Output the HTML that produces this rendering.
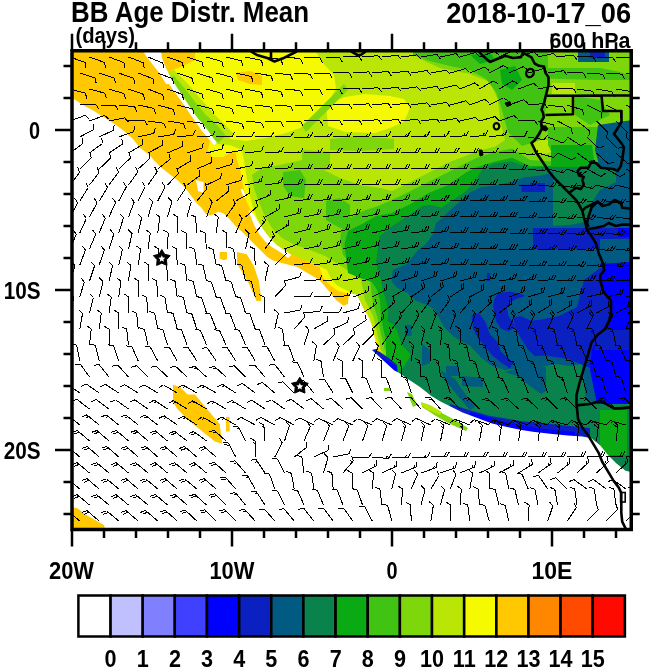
<!DOCTYPE html>
<html><head><meta charset="utf-8"><style>
html,body{margin:0;padding:0;background:#fff;width:650px;height:667px;overflow:hidden}
svg{display:block}
</style></head><body>
<svg width="650" height="667" viewBox="0 0 650 667"><defs><clipPath id="pc"><rect x="72" y="50" width="559" height="480"/></clipPath></defs><g clip-path="url(#pc)"><rect x="72" y="50" width="559" height="480" fill="#FFFFFF"/><path d="M60.0,40.0L640.0,40.0L640.0,540.0L60.0,540.0Z" fill="#FFC800"/><path d="M195.0,45.0L640.0,45.0L640.0,540.0L420.0,540.0L400.0,420.0L380.0,352.0L365.0,308.0L357.0,296.0L345.0,293.0L338.0,291.0L330.6,285.4L323.0,278.0L319.5,267.0L306.6,261.0L300.0,254.0L290.0,249.0L279.0,244.0L270.6,240.0L264.0,232.0L258.0,224.0L253.0,214.0L249.0,207.0L246.0,200.0L244.0,190.0L242.0,180.0L240.5,171.0L237.0,160.0L235.0,150.0L223.0,157.0L212.0,157.0L208.0,150.0L210.0,141.0L200.0,128.0L190.0,113.0L178.0,88.0L168.0,72.0L183.0,66.0L195.0,60.0Z" fill="#F5FA00"/><path d="M315.0,45.0L640.0,45.0L640.0,540.0L420.0,540.0L400.0,420.0L380.0,352.0L372.0,325.0L366.0,310.0L357.0,298.0L350.0,292.0L338.0,286.0L331.0,279.0L327.0,270.0L315.0,264.0L300.0,258.0L285.0,250.0L276.0,246.0L268.0,238.0L262.0,228.0L257.0,218.0L253.0,207.0L250.0,196.0L248.0,185.0L246.0,173.0L244.0,160.0L242.0,150.0L230.0,145.0L216.0,144.0L210.0,138.0L198.0,123.0L188.0,110.0L180.0,97.0L172.0,86.0L165.0,80.0L172.0,82.0L186.0,100.0L193.0,116.0L204.0,128.0L215.0,135.0L230.0,139.0L246.0,141.0L265.0,138.0L284.6,133.5L300.0,128.0L311.5,122.0L322.0,112.0L330.0,100.0L336.0,88.0L334.0,75.0L322.0,62.0L315.0,50.0L315.0,45.0Z" fill="#B9E605"/><path d="M236.0,73.0L250.0,71.0L262.0,76.0L262.0,85.0L250.0,84.0L238.0,80.0Z" fill="#FFC800"/><path d="M162.0,74.0L174.0,70.0L188.0,84.0L200.0,98.0L212.0,112.0L224.0,124.0L234.0,134.0L222.0,145.0L206.0,131.0L196.0,118.0L186.0,104.0L176.0,92.0Z" fill="#B9E605"/><path d="M164.0,78.0L174.0,76.0L186.0,90.0L196.0,103.0L206.0,115.0L218.0,126.0L226.0,136.0L218.0,143.0L206.0,130.0L196.0,118.0L186.0,104.0L176.0,92.0Z" fill="#7DD70A"/><path d="M326.0,104.0L345.0,97.0L365.0,94.0L390.0,96.0L404.0,99.0L410.0,108.0L404.0,122.0L390.0,128.0L375.0,133.0L345.0,132.0L328.0,126.0Z" fill="#F5FA00"/><path d="M252.0,175.0L262.0,168.0L280.0,165.0L302.0,160.0L320.0,168.0L340.0,178.0L360.0,185.0L380.0,188.0L392.0,191.0L410.5,181.7L429.0,172.5L447.4,163.0L466.0,155.8L480.6,150.3L495.4,146.6L505.0,140.0L500.0,120.0L498.0,100.0L490.0,82.0L470.0,74.0L440.0,68.0L418.0,58.0L410.0,45.0L640.0,45.0L640.0,540.0L420.0,540.0L400.0,420.0L383.0,352.0L381.0,350.0L379.5,342.0L377.5,334.0L375.5,325.0L373.0,316.0L369.0,308.0L365.0,300.0L363.0,290.0L361.0,280.0L350.0,272.0L338.0,264.0L325.0,256.0L310.0,250.0L295.0,245.0L282.0,238.0L272.0,228.0L264.0,214.0L258.0,200.0L254.0,188.0Z" fill="#7DD70A"/><path d="M302.0,126.0L318.0,110.0L334.0,94.0L344.0,84.0L348.0,90.0L336.0,102.0L320.0,118.0L306.0,132.0Z" fill="#7DD70A"/><path d="M330.0,139.0L360.0,136.0L394.0,139.0L394.0,149.0L360.0,151.0L330.0,150.0Z" fill="#7DD70A"/><path d="M302.0,150.0L330.0,152.0L330.0,170.0L302.0,170.0Z" fill="#7DD70A"/><path d="M552.0,83.0L575.0,83.0L575.0,94.0L552.0,94.0Z" fill="#B9E605"/><path d="M533.0,140.0L553.0,140.0L553.0,152.0L540.0,155.0L533.0,150.0Z" fill="#B9E605"/><path d="M392.0,200.0L410.5,191.0L429.0,181.7L447.4,172.5L466.0,163.0L477.0,157.7L495.0,152.0L512.0,148.5L530.0,160.0L576.0,163.0L600.0,160.0L640.0,160.0L640.0,540.0L420.0,540.0L400.0,420.0L387.0,352.0L385.0,350.0L383.0,342.0L381.0,334.0L379.0,325.0L377.0,316.0L374.5,308.0L372.5,300.0L371.0,290.0L370.0,280.0L362.0,270.0L350.0,262.0L343.0,255.0L340.0,240.0L342.0,226.0L350.0,218.0L360.0,212.0L378.0,206.0Z" fill="#41C314"/><path d="M326.0,201.0L340.0,198.0L350.0,205.0L350.0,225.0L340.0,228.0L326.0,220.0Z" fill="#41C314"/><path d="M283.0,172.0L300.0,170.0L306.0,180.0L304.0,198.0L290.0,196.0L283.0,186.0Z" fill="#41C314"/><path d="M413.0,45.0L548.0,45.0L548.0,80.0L545.0,115.0L540.0,140.0L522.0,146.0L508.0,132.0L502.0,110.0L496.0,92.0L486.0,79.0L470.0,70.0L450.0,66.0L430.0,61.0L413.0,55.0Z" fill="#41C314"/><path d="M500.0,70.0L515.0,66.0L522.0,80.0L512.0,90.0L502.0,84.0Z" fill="#0AAA14"/><path d="M470.0,55.0L490.0,52.0L495.0,60.0L480.0,64.0Z" fill="#0AAA14"/><path d="M540.0,68.0L600.0,68.0L620.0,72.0L632.0,76.0L632.0,80.0L600.0,80.0L560.0,79.0L540.0,78.0Z" fill="#41C314"/><path d="M575.0,96.0L600.0,100.0L610.0,115.0L590.0,125.0L575.0,115.0Z" fill="#41C314"/><path d="M392.0,213.0L410.5,204.0L429.0,192.8L447.4,185.4L466.0,172.5L477.0,167.0L495.0,161.4L512.0,157.7L530.0,166.0L553.0,166.0L640.0,166.0L640.0,540.0L420.0,540.0L400.0,420.0L392.0,380.0L389.0,350.0L386.5,342.0L384.5,334.0L382.5,325.0L381.0,316.0L380.5,308.0L380.0,300.0L377.0,290.0L372.0,282.0L360.0,278.0L348.0,273.0L346.0,257.0L344.5,244.0L348.0,231.0L363.0,223.5L376.0,216.0Z" fill="#0AAA14"/><path d="M483.0,168.0L495.4,163.2L512.0,161.4L530.0,168.0L553.0,166.0L576.0,163.0L590.0,155.0L600.0,160.0L615.0,165.0L640.0,165.0L640.0,540.0L420.0,540.0L400.0,420.0L397.0,360.0L400.0,344.6L398.0,333.8L393.8,325.0L387.4,321.0L388.4,312.3L386.3,301.5L383.0,290.8L381.0,280.0L377.7,270.0L376.0,262.0L377.7,250.0L379.5,236.5L390.6,227.0L401.7,220.0L412.8,212.5L422.0,206.0L430.0,205.0L441.8,207.5L453.0,200.0L466.0,191.0L475.0,181.7Z" fill="#0A824B"/><path d="M441.8,218.6L453.0,207.5L462.0,200.0L469.5,192.8L480.6,187.2L495.4,185.4L512.0,181.7L523.5,177.4L542.0,175.5L553.0,172.0L553.0,226.0L570.0,225.0L585.0,222.0L592.0,202.0L600.0,190.0L616.0,182.0L616.0,171.0L632.0,171.0L640.0,171.0L640.0,404.0L600.0,404.0L586.0,400.0L580.0,380.0L570.0,368.0L556.0,366.0L540.0,366.0L520.0,368.0L505.0,370.0L492.0,366.0L481.0,357.5L470.0,345.4L462.0,342.0L453.0,336.0L444.0,327.0L439.0,317.7L434.6,310.0L428.5,305.4L416.0,301.0L407.0,293.0L396.0,287.0L391.5,281.0L393.0,270.0L407.0,264.0L418.0,250.0L426.0,244.0L433.0,234.0L436.0,223.0Z" fill="#005A82"/><path d="M599.0,140.0L632.0,140.0L632.0,158.0L615.0,160.0L605.0,152.0Z" fill="#005A82"/><path d="M578.0,52.0L609.0,52.0L609.0,62.0L578.0,62.0Z" fill="#005A82"/><path d="M548.0,127.0L598.0,127.0L598.0,162.0L575.0,166.0L555.0,160.0L548.0,145.0Z" fill="#41C314"/><path d="M551.0,145.0L592.0,145.0L594.0,160.0L585.0,167.0L551.0,167.0Z" fill="#0AAA14"/><path d="M598.0,125.0L632.0,120.0L632.0,172.0L600.0,168.0L595.0,150.0Z" fill="#005A82"/><path d="M405.0,325.0L411.5,325.0L411.5,336.0L405.0,336.0Z" fill="#005A82"/><path d="M422.0,344.0L430.0,350.0L430.0,363.0L422.0,366.0Z" fill="#005A82"/><path d="M446.0,366.0L459.0,366.0L459.0,376.0L446.0,376.0Z" fill="#005A82"/><path d="M462.0,376.0L483.0,378.0L483.0,387.0L462.0,386.0Z" fill="#005A82"/><path d="M440.0,370.0L455.0,379.0L464.0,392.0L475.0,407.0L470.0,410.0L458.0,396.0L448.0,384.0Z" fill="#005A82"/><path d="M505.0,372.0L518.0,376.0L530.0,386.0L541.0,394.0L548.0,390.0L552.0,380.0L556.0,368.0L540.0,366.0L520.0,368.0Z" fill="#005A82"/><path d="M546.0,366.0L556.0,364.0L570.0,366.0L582.0,364.0L586.0,400.0L546.0,400.0Z" fill="#0A824B"/><path d="M586.0,404.0L632.0,404.0L632.0,470.0L586.0,440.0Z" fill="#0A824B"/><path d="M497.7,293.0L510.0,291.5L522.3,294.6L525.4,296.0L516.0,299.0L510.0,302.3L507.0,308.5L508.5,316.0L513.0,322.3L516.0,327.0L508.5,331.5L500.8,328.5L496.0,320.8L494.6,313.0L493.0,305.4L494.6,299.0Z" fill="#0A20C0"/><path d="M471.5,316.0L479.0,313.0L485.4,322.3L490.0,334.6L497.7,342.3L500.8,351.5L505.4,356.0L513.0,362.3L510.0,368.5L500.8,362.3L493.0,356.0L485.4,347.0L477.7,337.7L473.0,328.5Z" fill="#0A20C0"/><path d="M513.0,317.7L520.0,316.0L531.5,320.8L541.0,319.6L559.0,316.0L577.0,307.0L580.6,294.4L584.0,280.0L600.0,268.0L632.0,266.0L632.0,404.0L600.0,402.0L595.0,370.0L582.0,364.5L568.0,359.0L546.4,355.5L534.6,356.0L528.5,350.0L522.0,340.0L516.0,330.0Z" fill="#0A20C0"/><path d="M533.0,228.0L600.0,228.0L600.0,249.0L533.0,249.0Z" fill="#0A20C0"/><path d="M530.0,183.0L545.0,183.0L545.0,192.0L530.0,192.0Z" fill="#0A20C0"/><path d="M521.7,184.8L540.0,184.8L540.0,192.0L521.7,192.0Z" fill="#0A20C0"/><path d="M487.0,273.0L490.0,273.0L490.0,281.0L487.0,281.0Z" fill="#0A20C0"/><path d="M590.0,52.0L605.0,52.0L605.0,58.0L590.0,58.0Z" fill="#0A20C0"/><path d="M600.0,228.0L632.0,228.0L632.0,239.0L600.0,239.0Z" fill="#0A20C0"/><path d="M618.0,228.0L632.0,228.0L632.0,237.0L618.0,237.0Z" fill="#0000FF"/><path d="M600.0,264.0L632.0,262.0L632.0,404.0L597.0,404.0L590.0,370.0L592.0,350.0L600.0,335.0L610.0,320.0L611.0,300.0L604.0,290.0L601.0,280.0L604.0,270.0Z" fill="#0000FF"/><path d="M598.0,330.0L632.0,330.0L632.0,350.0L594.0,350.0Z" fill="#0A20C0"/><path d="M386.0,338.0L398.0,334.0L402.0,345.0L411.0,355.0L405.0,365.0L400.0,372.0L386.0,372.0Z" fill="#0AAA14"/><path d="M368.0,346.0L376.0,349.0L380.0,356.0L372.0,356.0Z" fill="#005A82"/><path d="M371.0,348.0L380.0,352.0L390.0,359.0L397.0,365.0L398.0,373.0L390.0,370.0L380.0,364.0L372.0,357.0Z" fill="#0A20C0"/><path d="M380.0,356.0L390.0,362.0L397.0,368.0L397.0,372.0L388.0,368.0Z" fill="#0000FF"/><path d="M450.0,404.0L468.0,409.7L490.0,416.0L520.0,421.0L550.0,424.0L590.0,428.0L590.0,445.0L445.0,445.0Z" fill="#0A20C0"/><path d="M470.0,412.0L505.0,422.0L540.0,428.5L560.0,430.5L575.0,432.0L575.0,440.0L470.0,425.0Z" fill="#0000FF"/><path d="M600.0,410.0L627.0,410.0L627.0,455.0L600.0,455.0Z" fill="#0AAA14"/><path d="M60.0,99.0L73.8,99.0L83.0,105.0L94.0,111.0L105.0,118.0L114.5,124.0L124.0,131.0L133.0,139.0L140.0,148.0L149.5,155.0L153.7,160.0L161.0,167.4L170.3,174.8L177.7,180.3L185.0,187.7L190.6,195.0L196.0,202.5L201.7,208.0L205.4,213.5L211.0,215.4L218.3,211.7L223.8,213.5L229.4,219.0L236.0,226.5L242.3,232.0L248.5,238.3L254.6,244.5L262.0,251.8L267.0,256.8L273.0,260.5L281.7,263.0L297.4,267.0L306.6,272.5L319.5,280.0L328.8,291.0L336.0,300.0L343.5,305.7L348.0,304.0L349.0,293.0L357.0,294.8L363.0,307.7L368.5,317.0L372.0,326.0L374.0,335.4L376.0,342.8L377.7,348.3L372.0,350.0L385.0,362.0L394.3,370.5L398.0,372.3L409.0,379.7L420.0,387.0L431.0,395.8L440.5,401.4L451.5,407.0L462.6,412.5L477.4,418.0L492.0,423.5L507.0,427.0L521.7,430.0L532.8,431.8L550.0,433.8L568.0,435.6L582.4,436.5L591.4,438.3L600.3,445.5L607.5,454.5L616.5,463.5L625.5,470.7L640.0,474.0L640.0,540.0L60.0,540.0Z" fill="#FFFFFF"/><path d="M196.0,180.0L203.5,182.0L203.5,193.0L198.0,191.0Z" fill="#FFFFFF"/><path d="M140.0,45.0L160.0,45.0L162.0,58.0L166.0,68.0L171.0,78.0L172.0,84.0L166.0,84.0L160.0,74.0L153.0,65.0L146.0,56.0Z" fill="#FFFFFF"/><path d="M166.0,80.0L172.0,80.0L180.0,92.0L188.0,104.0L196.0,116.0L206.0,128.0L217.0,143.0L214.0,145.0L202.0,131.0L190.0,114.0L183.0,103.5L175.0,92.5Z" fill="#FFFFFF"/><path d="M248.5,210.0L253.4,213.7L260.8,226.0L267.0,234.6L271.8,240.0L276.8,245.0L284.0,250.0L291.5,255.0L288.0,258.0L280.0,252.0L271.8,247.0L265.7,242.0L259.5,234.6L254.6,226.0L251.0,217.4Z" fill="#FFFFFF"/><path d="M240.5,189.5L243.0,189.0L246.0,197.0L244.0,198.0Z" fill="#FFFFFF"/><path d="M173.0,384.8L180.3,387.2L187.7,394.6L195.0,394.6L207.4,409.4L219.7,424.0L222.2,443.8L214.8,441.4L202.5,431.5L190.0,421.7L177.8,409.4L173.0,402.0Z" fill="#FFC800"/><path d="M226.0,417.0L229.6,417.0L229.6,431.5L226.0,431.5Z" fill="#FFC800"/><path d="M60.0,505.4L77.0,508.0L86.8,515.3L104.0,525.0L106.5,535.0L60.0,535.0Z" fill="#FFC800"/><path d="M237.0,252.0L246.8,254.3L254.0,266.6L259.0,281.4L261.5,301.0L256.6,301.0L249.0,284.0L241.8,271.5L237.0,264.0Z" fill="#FFC800"/><path d="M222.0,252.0L225.7,252.0L225.7,260.0L222.0,260.0Z" fill="#FFC800"/><path d="M219.7,252.0L227.0,252.0L227.0,259.0L219.7,259.0Z" fill="#FFC800"/><path d="M422.0,403.0L440.0,412.0L455.0,420.0L468.0,428.0L466.0,431.0L450.0,424.0L436.0,416.0L422.0,407.0Z" fill="#7DD70A"/><path d="M384.0,388.0L390.0,388.0L390.0,391.0L384.0,391.0Z" fill="#7DD70A"/><path d="M407.0,392.0L412.0,394.0L417.0,405.0L413.0,407.0Z" fill="#7DD70A"/><path d="M421.0,402.0L430.0,405.0L442.0,412.0L440.0,415.0L428.0,410.0L421.0,405.0Z" fill="#B9E605"/><path d="M70.0 57.0L85.0 62.5M85.0 62.5l1.0 5.4M89.5 57.0L104.5 62.5M104.5 62.5l1.0 5.4M109.0 57.0L124.0 62.6M124.0 62.6l0.9 5.4M128.5 57.0L143.4 62.8M143.4 62.8l0.8 5.4M148.0 57.0L162.8 63.0M162.8 63.0l0.8 5.4M167.5 57.0L182.5 62.5M182.5 62.5l0.9 5.4M187.0 57.0L202.2 62.0M202.2 62.0l1.1 5.4M206.5 57.0L221.9 61.5M221.9 61.5l1.3 5.3M226.0 57.0L241.5 60.9M241.5 60.9l1.5 5.3M245.5 57.0L261.2 60.2M261.2 60.2l1.8 5.2M265.0 57.0L280.8 59.4M280.8 59.4l2.0 5.1M284.5 57.0L300.4 58.6M300.4 58.6l2.3 5.0M304.0 57.0L320.0 57.8M320.0 57.8l2.5 4.9M323.5 57.0L339.5 57.1M339.5 57.1l2.7 4.8M343.0 57.0L359.0 56.3M359.0 56.3l3.0 4.6M362.5 57.0L378.4 55.6M378.4 55.6l3.2 4.5M382.0 57.0L397.9 55.2M397.9 55.2l3.3 4.4M401.5 57.0L417.3 54.8M417.3 54.8l3.4 4.3M421.0 57.0L436.8 54.4M436.8 54.4l3.5 4.3M440.5 57.0L456.1 53.6M456.1 53.6l3.7 4.1M460.0 57.0L475.3 52.5M475.3 52.5l4.0 3.8M479.5 57.0L494.5 51.4M494.5 51.4l4.3 3.5M499.0 57.0L513.5 50.3M513.5 50.3l4.5 3.2M518.5 57.0L533.6 51.7M533.6 51.7l4.2 3.6M538.0 57.0L553.6 53.4M553.6 53.4l3.8 4.0M557.5 57.0L573.4 55.0M573.4 55.0l3.3 4.4M577.0 57.0L593.0 56.7M593.0 56.7l2.8 4.7M596.5 57.0L612.5 57.0M612.5 57.0l2.8 4.8M616.0 57.0L632.0 57.0M632.0 57.0l2.8 4.8M635.5 57.0L651.5 57.0M651.5 57.0l2.8 4.8M79.8 73.0L95.0 77.9M95.0 77.9l1.2 5.4M99.2 73.0L114.4 78.1M114.4 78.1l1.1 5.4M118.8 73.0L133.8 78.4M133.8 78.4l1.0 5.4M138.2 73.0L153.2 78.8M153.2 78.8l0.8 5.4M157.8 73.0L172.7 78.8M172.7 78.8l0.8 5.4M177.2 73.0L192.4 78.3M192.4 78.3l1.0 5.4M196.8 73.0L212.0 77.8M212.0 77.8l1.2 5.4M216.2 73.0L231.7 77.2M231.7 77.2l1.4 5.3M235.8 73.0L251.4 76.5M251.4 76.5l1.6 5.3M255.2 73.0L271.0 75.8M271.0 75.8l1.9 5.2M274.8 73.0L290.6 75.0M290.6 75.0l2.1 5.1M294.2 73.0L310.2 74.2M310.2 74.2l2.4 5.0M313.8 73.0L329.7 73.4M329.7 73.4l2.6 4.8M333.2 73.0L349.2 72.7M349.2 72.7l2.8 4.7M352.8 73.0L368.7 71.9M368.7 71.9l3.1 4.6M372.2 73.0L388.2 71.4M388.2 71.4l3.2 4.5M391.8 73.0L407.6 71.0M407.6 71.0l3.3 4.4M411.2 73.0L427.1 70.6M427.1 70.6l3.4 4.3M430.8 73.0L446.5 70.2M446.5 70.2l3.6 4.2M450.2 73.0L465.6 68.6M465.6 68.6l4.0 3.8M469.8 73.0L484.6 67.0M484.6 67.0l4.3 3.4M489.2 73.0L503.4 65.5M503.4 65.5l4.7 2.9M508.8 73.0L523.4 66.6M523.4 66.6l4.4 3.3M528.2 73.0L543.6 68.6M543.6 68.6l4.0 3.8M547.8 73.0L563.6 70.7M563.6 70.7l3.4 4.3M567.2 73.0L583.2 72.8M583.2 72.8l2.8 4.7M586.8 73.0L602.7 74.2M602.7 74.2l2.4 5.0M606.2 73.0L622.2 74.2M622.2 74.2l2.4 5.0M625.8 73.0L641.7 74.2M641.7 74.2l2.4 5.0M70.0 89.0L85.4 93.2M85.4 93.2l1.4 5.3M89.5 89.0L104.9 93.2M104.9 93.2l1.4 5.3M109.0 89.0L124.3 93.8M124.3 93.8l1.2 5.4M128.5 89.0L143.6 94.4M143.6 94.4l1.0 5.4M148.0 89.0L162.9 94.9M162.9 94.9l0.8 5.4M167.5 89.0L182.5 94.5M182.5 94.5l0.9 5.4M187.0 89.0L202.2 94.0M202.2 94.0l1.1 5.4M206.5 89.0L221.9 93.5M221.9 93.5l1.3 5.3M226.0 89.0L241.5 92.9M241.5 92.9l1.5 5.3M245.5 89.0L261.2 92.2M261.2 92.2l1.8 5.2M265.0 89.0L280.8 91.4M280.8 91.4l2.0 5.1M284.5 89.0L300.4 90.6M300.4 90.6l2.3 5.0M304.0 89.0L320.0 89.8M320.0 89.8l2.5 4.9M323.5 89.0L339.5 89.1M339.5 89.1l2.7 4.8M343.0 89.0L359.0 88.3M359.0 88.3l3.0 4.6M362.5 89.0L378.4 87.6M378.4 87.6l3.2 4.5M382.0 89.0L397.9 87.2M397.9 87.2l3.3 4.4M401.5 89.0L417.3 86.8M417.3 86.8l3.4 4.3M421.0 89.0L436.8 86.4M436.8 86.4l3.5 4.3M440.5 89.0L456.0 85.0M456.0 85.0l3.8 3.9M460.0 89.0L474.8 82.9M474.8 82.9l4.4 3.4M479.5 89.0L493.3 80.9M493.3 80.9l4.8 2.7M499.0 89.0L512.8 80.9M512.8 80.9l4.8 2.7M518.5 89.0L533.5 83.3M533.5 83.3l4.3 3.5M538.0 89.0L553.7 85.9M553.7 85.9l3.6 4.1M557.5 89.0L573.5 88.6M573.5 88.6l2.9 4.7M577.0 89.0L592.8 91.3M592.8 91.3l2.0 5.1M596.5 89.0L612.3 91.7M612.3 91.7l1.9 5.2M616.0 89.0L631.8 91.7M631.8 91.7l1.9 5.2M635.5 89.0L651.3 91.7M651.3 91.7l1.9 5.2M79.8 105.0L95.7 104.3M95.7 104.3l3.0 4.6M99.2 105.0L115.2 105.1M115.2 105.1l2.7 4.8M118.8 105.0L134.7 106.8M134.7 106.8l2.2 5.0M138.2 105.0L153.9 108.4M153.9 108.4l1.7 5.2M157.8 105.0L173.2 109.3M173.2 109.3l1.4 5.3M177.2 105.0L192.7 109.0M192.7 109.0l1.5 5.3M196.8 105.0L212.3 108.8M212.3 108.8l1.5 5.3M216.2 105.0L231.9 108.5M231.9 108.5l1.6 5.3M235.8 105.0L251.5 107.8M251.5 107.8l1.9 5.2M255.2 105.0L271.1 107.1M271.1 107.1l2.1 5.1M274.8 105.0L290.7 106.3M290.7 106.3l2.4 5.0M294.2 105.0L310.2 105.6M310.2 105.6l2.6 4.9M313.8 105.0L329.7 105.0M329.7 105.0l2.8 4.8M333.2 105.0L349.2 104.4M349.2 104.4l2.9 4.7M352.8 105.0L368.7 103.8M368.7 103.8l3.1 4.5M372.2 105.0L388.2 103.4M388.2 103.4l3.2 4.5M391.8 105.0L407.6 103.1M407.6 103.1l3.3 4.4M411.2 105.0L427.1 102.8M427.1 102.8l3.4 4.3M430.8 105.0L446.5 102.4M446.5 102.4l3.5 4.3M450.2 105.0L465.7 100.9M465.7 100.9l3.9 3.9M469.8 105.0L484.7 99.3M484.7 99.3l4.3 3.5M489.2 105.0L503.6 97.9M503.6 97.9l4.6 3.0M508.8 105.0L523.9 99.8M523.9 99.8l4.1 3.6M528.2 105.0L544.2 103.5M544.2 103.5l3.2 4.5M547.8 105.0L563.6 107.1M563.6 107.1l2.1 5.1M567.2 105.0L582.5 109.9M582.5 109.9l1.1 5.4M586.8 105.0L601.1 112.2M601.1 112.2l0.3 5.5M606.2 105.0L620.4 112.4M620.4 112.4l0.2 5.5M625.8 105.0L639.9 112.4M639.9 112.4l0.2 5.5M70.0 121.0L85.0 115.4M85.0 115.4l4.2 3.5M89.5 121.0L104.5 115.4M104.5 115.4l4.2 3.5M109.0 121.0L124.7 117.9M124.7 117.9l3.6 4.1M128.5 121.0L144.5 120.5M144.5 120.5l2.9 4.7M148.0 121.0L163.8 123.2M163.8 123.2l2.1 5.1M167.5 121.0L183.3 123.5M183.3 123.5l2.0 5.1M187.0 121.0L202.8 123.5M202.8 123.5l2.0 5.1M206.5 121.0L222.3 123.6M222.3 123.6l1.9 5.1M226.0 121.0L241.8 123.4M241.8 123.4l2.0 5.1M245.5 121.0L261.4 122.7M261.4 122.7l2.2 5.0M265.0 121.0L281.0 121.9M281.0 121.9l2.5 4.9M284.5 121.0L300.5 121.2M300.5 121.2l2.7 4.8M304.0 121.0L320.0 120.7M320.0 120.7l2.8 4.7M323.5 121.0L339.5 120.4M339.5 120.4l2.9 4.6M343.0 121.0L359.0 120.0M359.0 120.0l3.0 4.6M362.5 121.0L378.4 119.6M378.4 119.6l3.1 4.5M382.0 121.0L397.9 119.4M397.9 119.4l3.2 4.5M401.5 121.0L417.4 119.2M417.4 119.2l3.3 4.4M421.0 121.0L436.9 119.0M436.9 119.0l3.3 4.4M440.5 121.0L456.3 118.4M456.3 118.4l3.5 4.2M460.0 121.0L475.6 117.5M475.6 117.5l3.7 4.0M479.5 121.0L494.9 116.6M494.9 116.6l4.0 3.8M499.0 121.0L514.1 115.7M514.1 115.7l4.2 3.6M518.5 121.0L534.5 120.1M534.5 120.1l3.0 4.6M538.0 121.0L553.5 124.8M553.5 124.8l1.5 5.3M557.5 121.0L571.8 128.3M571.8 128.3l0.3 5.5M577.0 121.0L589.6 130.8M589.6 130.8l-0.7 5.4M596.5 121.0L607.8 132.3M607.8 132.3l-1.4 5.3M616.0 121.0L627.3 132.3M627.3 132.3l-1.4 5.3M635.5 121.0L646.8 132.3M646.8 132.3l-1.4 5.3M79.8 137.0L93.8 129.4M93.8 129.4l0.1 -5.5M99.2 137.0L113.7 130.1M113.7 130.1l0.4 -5.5M118.8 137.0L133.8 131.6M133.8 131.6l1.0 -5.4M138.2 137.0L153.8 133.3M153.8 133.3l1.6 -5.3M157.8 137.0L173.6 134.5M173.6 134.5l2.0 -5.1M177.2 137.0L193.1 135.2M193.1 135.2l2.2 -5.0M196.8 137.0L212.7 135.8M212.7 135.8l2.4 -4.9M216.2 137.0L232.2 136.5M232.2 136.5l2.6 -4.8M235.8 137.0L251.7 136.7M251.7 136.7l2.7 -4.8M255.2 137.0L271.2 136.8M271.2 136.8l2.7 -4.8M274.8 137.0L290.7 136.9M290.7 136.9l2.7 -4.8M294.2 137.0L310.2 137.0M310.2 137.0l2.7 -4.8M307.6 137.0l1.4 -2.4M313.8 137.0L329.7 136.8M329.7 136.8l2.7 -4.8M327.1 136.8l1.3 -2.4M333.2 137.0L349.2 136.6M349.2 136.6l2.6 -4.8M346.6 136.7l1.3 -2.4M352.8 137.0L368.7 136.5M368.7 136.5l2.6 -4.9M366.1 136.5l1.3 -2.4M372.2 137.0L388.2 136.3M388.2 136.3l2.5 -4.9M385.6 136.4l1.3 -2.4M391.8 137.0L407.7 136.2M407.7 136.2l2.5 -4.9M405.1 136.4l1.3 -2.4M411.2 137.0L427.2 136.1M427.2 136.1l2.5 -4.9M424.6 136.3l1.2 -2.5M430.8 137.0L446.7 136.0M446.7 136.0l2.5 -4.9M444.1 136.2l1.2 -2.5M450.2 137.0L466.2 135.6M466.2 135.6l2.3 -5.0M463.6 135.8l1.2 -2.5M469.8 137.0L485.6 135.2M485.6 135.2l2.2 -5.0M483.1 135.5l1.1 -2.5M489.2 137.0L505.1 134.8M505.1 134.8l2.1 -5.1M502.5 135.2l1.0 -2.5M508.8 137.0L524.7 136.1M524.7 136.1l2.5 -4.9M528.2 137.0L544.0 139.6M544.0 139.6l3.5 -4.3M547.8 137.0L562.6 142.9M562.6 142.9l4.3 -3.4M567.2 137.0L580.8 145.6M580.8 145.6l4.9 -2.6M586.8 137.0L598.4 148.0M598.4 148.0l5.3 -1.6M606.2 137.0L617.6 148.3M617.6 148.3l5.3 -1.4M625.8 137.0L637.1 148.3M637.1 148.3l5.3 -1.4M70.0 153.0L82.9 143.5M82.9 143.5l-0.6 -5.5M89.5 153.0L102.4 143.5M102.4 143.5l-0.6 -5.5M109.0 153.0L122.3 144.1M122.3 144.1l-0.4 -5.5M128.5 153.0L142.2 144.8M142.2 144.8l-0.1 -5.5M148.0 153.0L162.1 145.5M162.1 145.5l0.2 -5.5M167.5 153.0L182.2 146.6M182.2 146.6l0.6 -5.5M187.0 153.0L202.2 147.9M202.2 147.9l1.1 -5.4M206.5 153.0L222.0 149.1M222.0 149.1l1.5 -5.3M226.0 153.0L241.8 150.3M241.8 150.3l1.9 -5.2M245.5 153.0L261.4 151.1M261.4 151.1l2.2 -5.1M265.0 153.0L281.0 151.9M281.0 151.9l2.4 -4.9M278.4 152.1l1.2 -2.5M284.5 153.0L300.5 152.7M300.5 152.7l2.7 -4.8M297.9 152.8l1.3 -2.4M304.0 153.0L320.0 152.9M320.0 152.9l2.7 -4.8M317.4 152.9l1.4 -2.4M323.5 153.0L339.5 152.9M339.5 152.9l2.7 -4.8M336.9 152.9l2.7 -4.8M343.0 153.0L359.0 152.9M359.0 152.9l2.7 -4.8M356.4 152.9l2.7 -4.8M362.5 153.0L378.5 152.9M378.5 152.9l2.7 -4.8M375.9 152.9l2.7 -4.8M382.0 153.0L398.0 152.9M398.0 152.9l2.7 -4.8M395.4 152.9l2.7 -4.8M401.5 153.0L417.5 152.9M417.5 152.9l2.7 -4.8M414.9 152.9l2.7 -4.8M421.0 153.0L437.0 152.9M437.0 152.9l2.7 -4.8M434.4 152.9l2.7 -4.8M440.5 153.0L456.5 152.9M456.5 152.9l2.7 -4.8M453.9 152.9l2.7 -4.8M460.0 153.0L476.0 152.9M476.0 152.9l2.7 -4.8M473.4 152.9l2.7 -4.8M479.5 153.0L495.5 152.9M495.5 152.9l2.7 -4.8M492.9 152.9l1.4 -2.4M499.0 153.0L515.0 152.9M515.0 152.9l2.7 -4.8M512.4 152.9l1.4 -2.4M518.5 153.0L534.4 155.1M534.4 155.1l3.4 -4.4M531.8 154.8l1.7 -2.2M538.0 153.0L553.4 157.4M553.4 157.4l3.9 -3.8M557.5 153.0L572.0 159.9M572.0 159.9l4.5 -3.1M577.0 153.0L590.0 162.3M590.0 162.3l5.0 -2.3M596.5 153.0L608.3 163.8M608.3 163.8l5.2 -1.7M616.0 153.0L627.8 163.8M627.8 163.8l5.2 -1.7M635.5 153.0L647.3 163.8M647.3 163.8l5.2 -1.7M79.8 169.0L91.2 157.8M91.2 157.8l-1.4 -5.3M99.2 169.0L110.7 157.9M110.7 157.9l-1.3 -5.3M118.8 169.0L130.4 158.1M130.4 158.1l-1.2 -5.4M138.2 169.0L150.1 158.3M150.1 158.3l-1.2 -5.4M157.8 169.0L170.2 159.0M170.2 159.0l-0.8 -5.4M177.2 169.0L190.9 160.7M190.9 160.7l-0.1 -5.5M196.8 169.0L211.4 162.6M211.4 162.6l0.6 -5.5M216.2 169.0L231.6 164.5M231.6 164.5l1.3 -5.3M235.8 169.0L251.4 165.7M251.4 165.7l1.7 -5.2M255.2 169.0L271.1 166.8M271.1 166.8l2.1 -5.1M268.5 167.1l1.0 -2.6M274.8 169.0L290.7 167.8M290.7 167.8l2.4 -5.0M288.1 168.0l1.2 -2.5M294.2 169.0L310.2 168.6M310.2 168.6l2.6 -4.8M307.6 168.7l2.6 -4.8M313.8 169.0L329.7 168.6M329.7 168.6l2.6 -4.8M327.1 168.7l2.6 -4.8M333.2 169.0L349.2 168.6M349.2 168.6l2.6 -4.8M346.6 168.7l2.6 -4.8M352.8 169.0L368.7 168.6M368.7 168.6l2.6 -4.8M366.1 168.7l2.6 -4.8M372.2 169.0L388.2 168.6M388.2 168.6l2.6 -4.8M385.6 168.7l2.6 -4.8M391.8 169.0L407.7 168.6M407.7 168.6l2.6 -4.8M405.1 168.7l2.6 -4.8M411.2 169.0L427.2 168.6M427.2 168.6l2.6 -4.8M424.6 168.7l2.6 -4.8M430.8 169.0L446.7 168.6M446.7 168.6l2.6 -4.8M444.1 168.7l2.6 -4.8M450.2 169.0L466.2 168.6M466.2 168.6l2.6 -4.8M463.6 168.7l2.6 -4.8M469.8 169.0L485.7 168.6M485.7 168.6l2.6 -4.8M483.1 168.7l2.6 -4.8M489.2 169.0L505.2 168.6M505.2 168.6l2.6 -4.8M502.6 168.7l2.6 -4.8M508.8 169.0L524.7 169.4M524.7 169.4l2.9 -4.7M522.1 169.3l2.9 -4.7M528.2 169.0L544.1 171.0M544.1 171.0l3.3 -4.4M541.5 170.7l1.7 -2.2M547.8 169.0L563.3 172.8M563.3 172.8l3.8 -4.0M560.8 172.1l1.9 -2.0M567.2 169.0L582.2 174.7M582.2 174.7l4.3 -3.5M579.8 173.7l2.1 -1.7M586.8 169.0L601.0 176.4M601.0 176.4l4.6 -3.0M606.2 169.0L620.3 176.6M620.3 176.6l4.7 -2.9M625.8 169.0L639.8 176.6M639.8 176.6l4.7 -2.9M70.0 185.0L79.7 172.3M79.7 172.3l-2.1 -5.1M89.5 185.0L99.2 172.3M99.2 172.3l-2.1 -5.1M109.0 185.0L118.5 172.1M118.5 172.1l-2.2 -5.0M128.5 185.0L137.8 172.0M137.8 172.0l-2.3 -5.0M148.0 185.0L157.1 171.8M157.1 171.8l-2.4 -5.0M167.5 185.0L178.5 173.4M178.5 173.4l-1.6 -5.3M187.0 185.0L199.9 175.6M199.9 175.6l-0.6 -5.5M206.5 185.0L220.9 178.0M220.9 178.0l0.4 -5.5M226.0 185.0L241.3 180.2M241.3 180.2l1.2 -5.4M245.5 185.0L261.1 181.4M261.1 181.4l1.6 -5.3M258.6 182.0l0.8 -2.6M265.0 185.0L280.8 182.7M280.8 182.7l2.0 -5.1M278.3 183.0l1.0 -2.6M284.5 185.0L300.5 183.9M300.5 183.9l2.4 -4.9M297.9 184.1l2.4 -4.9M304.0 185.0L320.0 184.3M320.0 184.3l2.5 -4.9M317.4 184.4l2.5 -4.9M323.5 185.0L339.5 184.3M339.5 184.3l2.5 -4.9M336.9 184.4l2.5 -4.9M343.0 185.0L359.0 184.3M359.0 184.3l2.5 -4.9M356.4 184.4l2.5 -4.9M362.5 185.0L378.5 184.3M378.5 184.3l2.5 -4.9M375.9 184.4l2.5 -4.9M382.0 185.0L398.0 184.3M398.0 184.3l2.5 -4.9M395.4 184.4l2.5 -4.9M401.5 185.0L417.5 184.3M417.5 184.3l2.5 -4.9M414.9 184.4l2.5 -4.9M412.3 184.5l1.3 -2.4M421.0 185.0L437.0 184.3M437.0 184.3l2.5 -4.9M434.4 184.4l2.5 -4.9M431.8 184.5l1.3 -2.4M440.5 185.0L456.5 184.3M456.5 184.3l2.5 -4.9M453.9 184.4l2.5 -4.9M451.3 184.5l1.3 -2.4M460.0 185.0L476.0 184.3M476.0 184.3l2.5 -4.9M473.4 184.4l2.5 -4.9M470.8 184.5l1.3 -2.4M479.5 185.0L495.5 184.3M495.5 184.3l2.5 -4.9M492.9 184.4l2.5 -4.9M490.3 184.5l1.3 -2.4M499.0 185.0L515.0 184.3M515.0 184.3l2.5 -4.9M512.4 184.4l2.5 -4.9M509.8 184.5l1.3 -2.4M518.5 185.0L534.5 185.3M534.5 185.3l2.8 -4.7M531.9 185.2l2.8 -4.7M538.0 185.0L553.9 186.4M553.9 186.4l3.1 -4.5M551.4 186.1l3.1 -4.5M557.5 185.0L573.3 187.5M573.3 187.5l3.5 -4.3M570.7 187.1l1.7 -2.1M577.0 185.0L592.6 188.6M592.6 188.6l3.8 -4.0M590.1 188.0l1.9 -2.0M596.5 185.0L612.0 189.0M612.0 189.0l3.8 -3.9M609.5 188.3l1.9 -2.0M616.0 185.0L631.5 189.0M631.5 189.0l3.8 -3.9M629.0 188.3l1.9 -2.0M635.5 185.0L651.0 189.0M651.0 189.0l3.8 -3.9M648.5 188.3l1.9 -2.0M79.8 201.0L88.3 187.5M88.3 187.5l-2.6 -4.9M99.2 201.0L107.5 187.3M107.5 187.3l-2.7 -4.8M118.8 201.0L126.4 186.9M126.4 186.9l-2.9 -4.7M138.2 201.0L145.3 186.6M145.3 186.6l-3.1 -4.6M157.8 201.0L165.0 186.8M165.0 186.8l-3.0 -4.6M177.2 201.0L186.1 187.7M186.1 187.7l-2.5 -4.9M196.8 201.0L207.0 188.7M207.0 188.7l-1.9 -5.2M216.2 201.0L228.8 191.1M228.8 191.1l-0.8 -5.4M235.8 201.0L249.7 193.2M249.7 193.2l0.1 -5.5M255.2 201.0L270.2 195.3M270.2 195.3l0.9 -5.4M267.8 196.2l0.4 -2.7M274.8 201.0L290.4 197.5M290.4 197.5l1.6 -5.3M287.8 198.0l1.6 -5.3M294.2 201.0L310.2 199.2M310.2 199.2l2.2 -5.0M307.6 199.5l2.2 -5.0M313.8 201.0L329.7 199.2M329.7 199.2l2.2 -5.0M327.1 199.5l2.2 -5.0M333.2 201.0L349.2 199.2M349.2 199.2l2.2 -5.0M346.6 199.5l2.2 -5.0M352.8 201.0L368.7 199.2M368.7 199.2l2.2 -5.0M366.1 199.5l2.2 -5.0M372.2 201.0L388.2 199.4M388.2 199.4l2.3 -5.0M385.6 199.6l2.3 -5.0M391.8 201.0L407.7 199.6M407.7 199.6l2.3 -5.0M405.1 199.8l2.3 -5.0M411.2 201.0L427.2 199.8M427.2 199.8l2.4 -5.0M424.6 200.0l2.4 -5.0M422.0 200.2l1.2 -2.5M430.8 201.0L446.7 200.0M446.7 200.0l2.5 -4.9M444.1 200.2l2.5 -4.9M441.5 200.3l1.2 -2.5M450.2 201.0L466.2 200.1M466.2 200.1l2.5 -4.9M463.6 200.3l2.5 -4.9M461.0 200.4l1.2 -2.5M469.8 201.0L485.7 200.2M485.7 200.2l2.5 -4.9M483.1 200.4l2.5 -4.9M480.5 200.5l1.3 -2.4M489.2 201.0L505.2 200.3M505.2 200.3l2.5 -4.9M502.6 200.4l2.5 -4.9M500.0 200.6l1.3 -2.4M508.8 201.0L524.7 200.7M524.7 200.7l2.7 -4.8M522.1 200.8l2.7 -4.8M519.5 200.8l1.3 -2.4M528.2 201.0L544.2 201.5M544.2 201.5l2.9 -4.7M541.6 201.5l2.9 -4.7M539.0 201.4l1.5 -2.3M547.8 201.0L563.7 202.3M563.7 202.3l3.1 -4.5M561.1 202.1l3.1 -4.5M567.2 201.0L583.1 203.1M583.1 203.1l3.4 -4.4M580.5 202.8l3.4 -4.4M586.8 201.0L602.5 203.6M602.5 203.6l3.5 -4.2M600.0 203.2l3.5 -4.2M606.2 201.0L622.0 203.6M622.0 203.6l3.5 -4.2M619.5 203.2l3.5 -4.2M625.8 201.0L641.5 203.6M641.5 203.6l3.5 -4.2M639.0 203.2l3.5 -4.2M70.0 217.0L77.6 202.9M77.6 202.9l-2.9 -4.7M89.5 217.0L97.1 202.9M97.1 202.9l-2.9 -4.7M109.0 217.0L115.6 202.4M115.6 202.4l-3.2 -4.5M128.5 217.0L134.2 202.0M134.2 202.0l-3.5 -4.3M148.0 217.0L152.6 201.7M152.6 201.7l-3.8 -4.0M167.5 217.0L172.0 201.6M172.0 201.6l-3.8 -4.0M187.0 217.0L191.4 201.6M191.4 201.6l-3.8 -3.9M206.5 217.0L212.2 202.0M212.2 202.0l-3.5 -4.3M226.0 217.0L235.2 203.9M235.2 203.9l-2.3 -5.0M245.5 217.0L257.5 206.4M257.5 206.4l-1.1 -5.4M265.0 217.0L279.1 209.4M279.1 209.4l0.2 -5.5M276.8 210.7l0.1 -2.7M284.5 217.0L300.0 212.9M300.0 212.9l1.4 -5.3M297.5 213.6l1.4 -5.3M304.0 217.0L319.7 213.9M319.7 213.9l1.8 -5.2M317.1 214.4l1.8 -5.2M323.5 217.0L339.2 213.9M339.2 213.9l1.8 -5.2M336.6 214.4l1.8 -5.2M343.0 217.0L358.7 213.9M358.7 213.9l1.8 -5.2M356.1 214.4l1.8 -5.2M362.5 217.0L378.2 214.0M378.2 214.0l1.8 -5.2M375.7 214.5l1.8 -5.2M382.0 217.0L397.8 214.5M397.8 214.5l2.0 -5.1M395.2 214.9l2.0 -5.1M401.5 217.0L417.4 215.0M417.4 215.0l2.1 -5.1M414.8 215.3l2.1 -5.1M412.2 215.7l1.1 -2.5M421.0 217.0L436.9 215.5M436.9 215.5l2.3 -5.0M434.3 215.8l2.3 -5.0M431.8 216.0l1.2 -2.5M440.5 217.0L456.5 215.9M456.5 215.9l2.4 -4.9M453.9 216.1l2.4 -4.9M451.3 216.3l1.2 -2.5M460.0 217.0L476.0 216.2M476.0 216.2l2.5 -4.9M473.4 216.3l2.5 -4.9M470.8 216.5l1.3 -2.4M479.5 217.0L495.5 216.5M495.5 216.5l2.6 -4.9M492.9 216.5l2.6 -4.9M490.3 216.6l1.3 -2.4M499.0 217.0L515.0 216.7M515.0 216.7l2.7 -4.8M512.4 216.8l2.7 -4.8M509.8 216.8l2.7 -4.8M518.5 217.0L534.5 217.3M534.5 217.3l2.9 -4.7M531.9 217.3l2.9 -4.7M529.3 217.2l1.4 -2.4M538.0 217.0L554.0 218.0M554.0 218.0l3.0 -4.6M551.4 217.8l3.0 -4.6M548.8 217.7l1.5 -2.3M557.5 217.0L573.4 218.7M573.4 218.7l3.2 -4.5M570.8 218.4l3.2 -4.5M568.2 218.1l1.6 -2.2M577.0 217.0L592.8 219.3M592.8 219.3l3.4 -4.3M590.3 218.9l3.4 -4.3M596.5 217.0L612.3 219.4M612.3 219.4l3.4 -4.3M609.7 219.0l3.4 -4.3M616.0 217.0L631.8 219.4M631.8 219.4l3.4 -4.3M629.2 219.0l3.4 -4.3M635.5 217.0L651.3 219.4M651.3 219.4l3.4 -4.3M648.7 219.0l3.4 -4.3M79.8 233.0L86.4 218.5M86.4 218.5l-3.2 -4.5M99.2 233.0L105.3 218.2M105.3 218.2l-3.4 -4.4M118.8 233.0L123.5 217.7M123.5 217.7l-3.7 -4.1M138.2 233.0L141.7 217.4M141.7 217.4l-4.1 -3.7M157.8 233.0L159.8 217.1M159.8 217.1l-4.4 -3.3M177.2 233.0L177.7 217.0M177.7 217.0l-4.7 -2.9M196.8 233.0L195.5 217.0M195.5 217.0l-5.0 -2.4M216.2 233.0L218.3 217.1M218.3 217.1l-4.4 -3.3M235.8 233.0L242.1 218.3M242.1 218.3l-3.3 -4.4M255.2 233.0L265.5 220.7M265.5 220.7l-1.9 -5.2M263.8 222.7l-1.0 -2.6M274.8 233.0L288.6 225.0M288.6 225.0l-0.0 -5.5M286.3 226.3l-0.0 -2.7M294.2 233.0L309.8 229.1M309.8 229.1l1.5 -5.3M307.2 229.7l1.5 -5.3M313.8 233.0L329.2 229.0M329.2 229.0l1.5 -5.3M326.7 229.7l1.5 -5.3M333.2 233.0L348.7 229.0M348.7 229.0l1.5 -5.3M346.2 229.6l1.5 -5.3M352.8 233.0L368.2 228.9M368.2 228.9l1.4 -5.3M365.7 229.6l1.4 -5.3M372.2 233.0L387.8 229.4M387.8 229.4l1.6 -5.3M385.3 230.0l1.6 -5.3M391.8 233.0L407.5 230.1M407.5 230.1l1.9 -5.2M404.9 230.6l1.9 -5.2M411.2 233.0L427.1 230.9M427.1 230.9l2.1 -5.1M424.5 231.2l2.1 -5.1M422.0 231.6l1.0 -2.5M430.8 233.0L446.7 231.6M446.7 231.6l2.3 -5.0M444.1 231.8l2.3 -5.0M441.5 232.1l1.2 -2.5M450.2 233.0L466.2 232.0M466.2 232.0l2.4 -4.9M463.6 232.2l2.4 -4.9M461.0 232.3l1.2 -2.5M469.8 233.0L485.7 232.4M485.7 232.4l2.6 -4.9M483.1 232.5l2.6 -4.9M480.5 232.6l2.6 -4.9M489.2 233.0L505.2 232.8M505.2 232.8l2.7 -4.8M502.6 232.8l2.7 -4.8M500.0 232.9l2.7 -4.8M508.8 233.0L524.7 233.2M524.7 233.2l2.8 -4.7M522.1 233.2l2.8 -4.7M519.5 233.2l2.8 -4.7M528.2 233.0L544.2 233.8M544.2 233.8l3.0 -4.6M541.6 233.6l3.0 -4.6M539.0 233.5l3.0 -4.6M547.8 233.0L563.7 234.3M563.7 234.3l3.1 -4.5M561.1 234.1l3.1 -4.5M558.5 233.9l1.6 -2.3M567.2 233.0L583.1 234.8M583.1 234.8l3.3 -4.4M580.6 234.5l3.3 -4.4M578.0 234.2l1.6 -2.2M586.8 233.0L602.6 235.2M602.6 235.2l3.4 -4.3M600.0 234.8l3.4 -4.3M597.5 234.5l1.7 -2.2M606.2 233.0L622.1 235.2M622.1 235.2l3.4 -4.3M619.5 234.8l3.4 -4.3M617.0 234.5l1.7 -2.2M625.8 233.0L641.6 235.2M641.6 235.2l3.4 -4.3M639.0 234.8l3.4 -4.3M636.5 234.5l1.7 -2.2M70.0 249.0L76.2 234.2M76.2 234.2l-3.3 -4.4M89.5 249.0L95.7 234.2M95.7 234.2l-3.3 -4.4M109.0 249.0L113.9 233.8M113.9 233.8l-3.7 -4.1M128.5 249.0L132.1 233.4M132.1 233.4l-4.0 -3.8M148.0 249.0L150.3 233.2M150.3 233.2l-4.3 -3.4M167.5 249.0L168.2 233.0M168.2 233.0l-4.6 -3.0M187.0 249.0L186.1 233.0M186.1 233.0l-4.9 -2.5M206.5 249.0L205.1 233.1M205.1 233.1l-5.0 -2.3M226.0 249.0L226.7 233.0M226.7 233.0l-4.6 -3.0M245.5 249.0L249.1 233.4M249.1 233.4l-4.0 -3.7M265.0 249.0L274.3 236.0M274.3 236.0l-2.3 -5.0M272.8 238.1l-1.1 -2.5M284.5 249.0L299.5 243.5M299.5 243.5l1.0 -5.4M297.1 244.4l0.5 -2.7M304.0 249.0L319.7 245.9M319.7 245.9l1.8 -5.2M317.2 246.4l0.9 -2.6M323.5 249.0L339.1 245.6M339.1 245.6l1.7 -5.2M336.6 246.2l1.7 -5.2M343.0 249.0L358.6 245.3M358.6 245.3l1.6 -5.3M356.0 245.9l1.6 -5.3M362.5 249.0L378.1 245.4M378.1 245.4l1.6 -5.3M375.6 246.0l1.6 -5.3M382.0 249.0L397.7 246.1M397.7 246.1l1.8 -5.2M395.2 246.5l1.8 -5.2M401.5 249.0L417.3 246.7M417.3 246.7l2.0 -5.1M414.8 247.1l2.0 -5.1M412.2 247.4l1.0 -2.6M421.0 249.0L436.9 247.3M436.9 247.3l2.2 -5.0M434.3 247.6l2.2 -5.0M431.7 247.9l1.1 -2.5M440.5 249.0L456.5 247.8M456.5 247.8l2.4 -5.0M453.9 248.0l2.4 -5.0M451.3 248.2l1.2 -2.5M460.0 249.0L476.0 248.2M476.0 248.2l2.5 -4.9M473.4 248.3l2.5 -4.9M470.8 248.5l1.3 -2.4M479.5 249.0L495.5 248.6M495.5 248.6l2.6 -4.8M492.9 248.7l2.6 -4.8M490.3 248.7l1.3 -2.4M499.0 249.0L515.0 249.0M515.0 249.0l2.7 -4.8M512.4 249.0l2.7 -4.8M509.8 249.0l2.7 -4.8M518.5 249.0L534.5 249.4M534.5 249.4l2.9 -4.7M531.9 249.4l2.9 -4.7M529.3 249.3l1.4 -2.3M538.0 249.0L554.0 249.9M554.0 249.9l3.0 -4.6M551.4 249.7l3.0 -4.6M548.8 249.6l1.5 -2.3M557.5 249.0L573.4 250.3M573.4 250.3l3.1 -4.5M570.9 250.1l3.1 -4.5M568.3 249.9l1.6 -2.3M577.0 249.0L592.9 250.8M592.9 250.8l3.3 -4.4M590.3 250.5l3.3 -4.4M587.7 250.2l1.6 -2.2M596.5 249.0L612.4 250.8M612.4 250.8l3.3 -4.4M609.8 250.5l3.3 -4.4M607.2 250.2l1.6 -2.2M616.0 249.0L631.9 250.8M631.9 250.8l3.3 -4.4M629.3 250.5l3.3 -4.4M626.7 250.2l1.6 -2.2M635.5 249.0L651.4 250.8M651.4 250.8l3.3 -4.4M648.8 250.5l3.3 -4.4M646.2 250.2l1.6 -2.2M79.8 265.0L85.4 250.0M85.4 250.0l-3.5 -4.3M99.2 265.0L104.3 249.8M104.3 249.8l-3.7 -4.1M118.8 265.0L122.5 249.4M122.5 249.4l-4.0 -3.8M138.2 265.0L140.6 249.2M140.6 249.2l-4.3 -3.4M157.8 265.0L158.7 249.0M158.7 249.0l-4.6 -3.0M177.2 265.0L176.6 249.0M176.6 249.0l-4.9 -2.6M196.8 265.0L194.6 249.1M194.6 249.1l-5.1 -2.1M216.2 265.0L213.2 249.3M213.2 249.3l-5.2 -1.8M235.8 265.0L233.6 249.2M233.6 249.2l-5.1 -2.1M255.2 265.0L254.5 249.0M254.5 249.0l-4.9 -2.5M274.8 265.0L286.2 253.8M286.2 253.8l-1.3 -5.3M294.2 265.0L310.1 263.1M310.1 263.1l2.2 -5.1M313.8 265.0L329.6 262.6M329.6 262.6l2.0 -5.1M327.0 263.0l1.0 -2.6M333.2 265.0L349.0 262.0M349.0 262.0l1.8 -5.2M346.4 262.5l1.8 -5.2M352.8 265.0L368.4 261.6M368.4 261.6l1.7 -5.2M365.8 262.2l1.7 -5.2M372.2 265.0L388.0 262.1M388.0 262.1l1.8 -5.2M385.4 262.6l1.8 -5.2M391.8 265.0L407.6 262.6M407.6 262.6l2.0 -5.1M405.0 263.0l2.0 -5.1M402.4 263.4l1.0 -2.6M411.2 265.0L427.1 263.1M427.1 263.1l2.2 -5.1M424.6 263.4l2.2 -5.1M422.0 263.7l1.1 -2.5M430.8 265.0L446.7 263.6M446.7 263.6l2.3 -5.0M444.1 263.8l2.3 -5.0M441.5 264.1l1.2 -2.5M450.2 265.0L466.2 264.0M466.2 264.0l2.4 -4.9M463.6 264.2l2.4 -4.9M461.0 264.3l1.2 -2.5M469.8 265.0L485.7 264.4M485.7 264.4l2.6 -4.9M483.1 264.5l2.6 -4.9M480.5 264.6l1.3 -2.4M489.2 265.0L505.2 264.8M505.2 264.8l2.7 -4.8M502.6 264.8l2.7 -4.8M500.0 264.9l1.3 -2.4M508.8 265.0L524.7 265.2M524.7 265.2l2.8 -4.7M522.1 265.1l2.8 -4.7M519.5 265.1l1.4 -2.4M528.2 265.0L544.2 265.5M544.2 265.5l2.9 -4.7M541.6 265.4l2.9 -4.7M539.0 265.4l1.5 -2.3M547.8 265.0L563.7 265.9M563.7 265.9l3.0 -4.6M561.1 265.7l3.0 -4.6M558.5 265.6l1.5 -2.3M567.2 265.0L583.2 266.3M583.2 266.3l3.1 -4.5M580.6 266.1l3.1 -4.5M578.0 265.9l1.6 -2.3M586.8 265.0L602.7 266.5M602.7 266.5l3.2 -4.5M600.1 266.3l3.2 -4.5M597.5 266.0l1.6 -2.2M606.2 265.0L622.2 266.5M622.2 266.5l3.2 -4.5M619.6 266.3l3.2 -4.5M617.0 266.0l1.6 -2.2M625.8 265.0L641.7 266.5M641.7 266.5l3.2 -4.5M639.1 266.3l3.2 -4.5M636.5 266.0l1.6 -2.2M70.0 281.0L75.1 265.8M75.1 265.8l-3.6 -4.1M89.5 281.0L94.6 265.8M94.6 265.8l-3.6 -4.1M109.0 281.0L112.7 265.4M112.7 265.4l-4.0 -3.8M128.5 281.0L130.8 265.2M130.8 265.2l-4.3 -3.4M148.0 281.0L148.8 265.0M148.8 265.0l-4.6 -3.0M167.5 281.0L166.8 265.0M166.8 265.0l-4.9 -2.5M187.0 281.0L184.9 265.1M184.9 265.1l-5.1 -2.1M206.5 281.0L203.0 265.4M203.0 265.4l-5.3 -1.6M226.0 281.0L221.7 265.6M221.7 265.6l-5.3 -1.4M245.5 281.0L241.9 265.4M241.9 265.4l-5.3 -1.6M265.0 281.0L268.3 265.4M268.3 265.4l-4.1 -3.7M284.5 281.0L299.9 276.8M299.9 276.8l1.4 -5.3M304.0 281.0L319.9 279.7M319.9 279.7l2.3 -5.0M323.5 281.0L339.4 279.2M339.4 279.2l2.2 -5.0M336.8 279.5l1.1 -2.5M343.0 281.0L358.7 277.8M358.7 277.8l1.7 -5.2M356.1 278.3l0.9 -2.6M362.5 281.0L377.8 276.5M377.8 276.5l1.3 -5.3M375.4 277.2l1.3 -5.3M382.0 281.0L397.3 276.3M397.3 276.3l1.2 -5.4M394.8 277.1l1.2 -5.4M401.5 281.0L416.7 276.1M416.7 276.1l1.2 -5.4M414.3 276.9l1.2 -5.4M421.0 281.0L436.2 275.9M436.2 275.9l1.1 -5.4M433.7 276.8l1.1 -5.4M440.5 281.0L455.8 276.3M455.8 276.3l1.2 -5.4M453.3 277.0l1.2 -5.4M460.0 281.0L475.5 277.1M475.5 277.1l1.5 -5.3M473.0 277.7l1.5 -5.3M470.5 278.3l0.7 -2.6M479.5 281.0L495.2 277.9M495.2 277.9l1.8 -5.2M492.6 278.4l1.8 -5.2M490.1 278.9l0.9 -2.6M499.0 281.0L514.8 278.7M514.8 278.7l2.0 -5.1M512.3 279.0l2.0 -5.1M509.7 279.4l1.0 -2.6M518.5 281.0L534.4 279.1M534.4 279.1l2.2 -5.1M531.8 279.4l2.2 -5.1M529.2 279.7l1.1 -2.5M538.0 281.0L553.9 279.5M553.9 279.5l2.3 -5.0M551.3 279.8l2.3 -5.0M548.8 280.0l1.2 -2.5M557.5 281.0L573.5 280.0M573.5 280.0l2.4 -4.9M570.9 280.1l2.4 -4.9M568.3 280.3l1.2 -2.5M577.0 281.0L593.0 280.4M593.0 280.4l2.6 -4.9M590.4 280.5l2.6 -4.9M587.8 280.6l1.3 -2.4M596.5 281.0L612.5 280.5M612.5 280.5l2.6 -4.9M609.9 280.6l2.6 -4.9M607.3 280.6l1.3 -2.4M616.0 281.0L632.0 280.5M632.0 280.5l2.6 -4.9M629.4 280.6l2.6 -4.9M626.8 280.6l1.3 -2.4M635.5 281.0L651.5 280.5M651.5 280.5l2.6 -4.9M648.9 280.6l2.6 -4.9M646.3 280.6l1.3 -2.4M79.8 297.0L84.3 281.7M84.3 281.7l-3.8 -4.0M99.2 297.0L103.1 281.5M103.1 281.5l-4.0 -3.8M118.8 297.0L120.9 281.1M120.9 281.1l-4.3 -3.4M138.2 297.0L138.8 281.0M138.8 281.0l-4.7 -2.9M157.8 297.0L156.7 281.0M156.7 281.0l-4.9 -2.4M177.2 297.0L175.0 281.2M175.0 281.2l-5.1 -2.0M196.8 297.0L193.2 281.4M193.2 281.4l-5.3 -1.6M216.2 297.0L211.4 281.7M211.4 281.7l-5.4 -1.2M235.8 297.0L231.2 281.6M231.2 281.6l-5.3 -1.3M255.2 297.0L251.5 281.5M251.5 281.5l-5.3 -1.5M274.8 297.0L285.7 285.4M285.7 285.4l-1.6 -5.3M294.2 297.0L310.2 296.5M310.2 296.5l2.6 -4.8M313.8 297.0L329.7 296.3M329.7 296.3l2.5 -4.9M333.2 297.0L349.2 295.5M349.2 295.5l2.3 -5.0M346.6 295.7l1.1 -2.5M352.8 297.0L367.9 291.7M367.9 291.7l1.0 -5.4M365.4 292.6l0.5 -2.7M372.2 297.0L386.6 289.9M386.6 289.9l0.3 -5.5M384.2 291.0l0.2 -2.7M391.8 297.0L405.5 288.9M405.5 288.9l-0.1 -5.5M403.3 290.2l-0.0 -2.7M411.2 297.0L424.4 287.9M424.4 287.9l-0.5 -5.5M422.3 289.4l-0.5 -5.5M430.8 297.0L443.3 287.0M443.3 287.0l-0.8 -5.4M441.2 288.6l-0.8 -5.4M450.2 297.0L463.6 288.2M463.6 288.2l-0.3 -5.5M461.4 289.6l-0.3 -5.5M469.8 297.0L483.8 289.4M483.8 289.4l0.2 -5.5M481.6 290.7l0.2 -5.5M489.2 297.0L504.0 290.7M504.0 290.7l0.7 -5.5M501.6 291.7l0.7 -5.5M508.8 297.0L523.8 291.7M523.8 291.7l1.0 -5.4M521.4 292.6l1.0 -5.4M528.2 297.0L543.5 292.2M543.5 292.2l1.2 -5.4M541.0 293.0l1.2 -5.4M547.8 297.0L563.2 292.8M563.2 292.8l1.4 -5.3M560.7 293.5l1.4 -5.3M567.2 297.0L582.8 293.3M582.8 293.3l1.6 -5.3M580.3 293.9l1.6 -5.3M586.8 297.0L602.4 293.7M602.4 293.7l1.7 -5.2M599.9 294.2l1.7 -5.2M606.2 297.0L621.9 293.7M621.9 293.7l1.7 -5.2M619.4 294.2l1.7 -5.2M625.8 297.0L641.4 293.7M641.4 293.7l1.7 -5.2M638.9 294.2l1.7 -5.2M70.0 313.0L73.9 297.5M73.9 297.5l-3.9 -3.8M89.5 313.0L93.4 297.5M93.4 297.5l-3.9 -3.8M109.0 313.0L111.2 297.2M111.2 297.2l-4.3 -3.4M128.5 313.0L128.9 297.0M128.9 297.0l-4.7 -2.9M148.0 313.0L146.6 297.1M146.6 297.1l-5.0 -2.3M167.5 313.0L164.9 297.2M164.9 297.2l-5.1 -1.9M187.0 313.0L183.3 297.4M183.3 297.4l-5.3 -1.6M206.5 313.0L201.7 297.7M201.7 297.7l-5.4 -1.2M226.0 313.0L220.6 297.9M220.6 297.9l-5.4 -1.0M245.5 313.0L240.7 297.7M240.7 297.7l-5.4 -1.2M265.0 313.0L264.2 297.0M264.2 297.0l-4.9 -2.5M284.5 313.0L300.2 310.1M300.2 310.1l1.8 -5.2M304.0 313.0L319.9 311.3M319.9 311.3l2.2 -5.0M323.5 313.0L339.5 312.0M339.5 312.0l2.4 -4.9M343.0 313.0L358.4 308.7M358.4 308.7l1.4 -5.3M362.5 313.0L376.1 304.5M376.1 304.5l-0.2 -5.5M373.9 305.9l-0.1 -2.7M382.0 313.0L394.4 302.9M394.4 302.9l-0.9 -5.4M392.4 304.5l-0.4 -2.7M401.5 313.0L412.5 301.4M412.5 301.4l-1.6 -5.3M410.7 303.3l-0.8 -2.6M421.0 313.0L430.4 300.1M430.4 300.1l-2.2 -5.0M428.9 302.2l-1.1 -2.5M440.5 313.0L449.9 300.0M449.9 300.0l-2.2 -5.0M448.4 302.1l-1.1 -2.5M460.0 313.0L470.7 301.1M470.7 301.1l-1.7 -5.2M468.9 303.0l-0.9 -2.6M479.5 313.0L491.4 302.3M491.4 302.3l-1.2 -5.4M489.4 304.0l-1.2 -5.4M499.0 313.0L511.9 303.6M511.9 303.6l-0.6 -5.5M509.8 305.1l-0.6 -5.5M518.5 313.0L531.8 304.1M531.8 304.1l-0.4 -5.5M529.6 305.5l-0.4 -5.5M538.0 313.0L551.6 304.6M551.6 304.6l-0.2 -5.5M549.4 306.0l-0.2 -5.5M557.5 313.0L571.4 305.1M571.4 305.1l0.0 -5.5M569.2 306.4l0.0 -5.5M577.0 313.0L591.2 305.6M591.2 305.6l0.2 -5.5M588.9 306.8l0.2 -5.5M596.5 313.0L610.7 305.7M610.7 305.7l0.3 -5.5M608.4 306.9l0.3 -5.5M616.0 313.0L630.2 305.7M630.2 305.7l0.3 -5.5M627.9 306.9l0.3 -5.5M635.5 313.0L649.7 305.7M649.7 305.7l0.3 -5.5M647.4 306.9l0.3 -5.5M79.8 329.0L82.6 313.3M82.6 313.3l-4.2 -3.6M99.2 329.0L101.2 313.1M101.2 313.1l-4.4 -3.3M118.8 329.0L118.9 313.0M118.9 313.0l-4.7 -2.8M138.2 329.0L136.6 313.1M136.6 313.1l-5.0 -2.3M157.8 329.0L154.7 313.3M154.7 313.3l-5.2 -1.8M177.2 329.0L173.2 313.5M173.2 313.5l-5.3 -1.5M196.8 329.0L191.8 313.8M191.8 313.8l-5.4 -1.1M216.2 329.0L210.3 314.1M210.3 314.1l-5.4 -0.8M235.8 329.0L230.1 314.0M230.1 314.0l-5.4 -0.9M255.2 329.0L250.0 313.9M250.0 313.9l-5.4 -1.1M274.8 329.0L278.3 313.4M278.3 313.4l-4.0 -3.7M294.2 329.0L304.9 317.1M304.9 317.1l-1.7 -5.2M313.8 329.0L327.6 321.1M327.6 321.1l0.0 -5.5M333.2 329.0L347.8 322.3M347.8 322.3l0.5 -5.5M352.8 329.0L366.1 320.1M366.1 320.1l-0.4 -5.5M372.2 329.0L384.0 318.1M384.0 318.1l-1.2 -5.4M382.1 319.9l-0.6 -2.7M391.8 329.0L401.7 316.4M401.7 316.4l-2.0 -5.1M400.1 318.5l-1.0 -2.6M411.2 329.0L419.1 315.1M419.1 315.1l-2.8 -4.7M417.8 317.3l-1.4 -2.4M430.8 329.0L436.4 314.0M436.4 314.0l-3.5 -4.3M435.5 316.5l-1.7 -2.1M450.2 329.0L456.0 314.1M456.0 314.1l-3.5 -4.3M455.0 316.5l-1.7 -2.1M469.8 329.0L475.5 314.1M475.5 314.1l-3.5 -4.3M474.6 316.5l-1.7 -2.1M489.2 329.0L495.5 314.3M495.5 314.3l-3.3 -4.4M494.5 316.7l-1.7 -2.2M508.8 329.0L515.2 314.3M515.2 314.3l-3.3 -4.4M514.1 316.7l-3.3 -4.4M528.2 329.0L534.6 314.3M534.6 314.3l-3.3 -4.4M533.6 316.7l-3.3 -4.4M547.8 329.0L554.3 314.4M554.3 314.4l-3.2 -4.5M553.2 316.8l-3.2 -4.5M567.2 329.0L573.9 314.4M573.9 314.4l-3.2 -4.5M572.8 316.8l-3.2 -4.5M586.8 329.0L593.5 314.5M593.5 314.5l-3.2 -4.5M592.4 316.8l-3.2 -4.5M606.2 329.0L613.0 314.5M613.0 314.5l-3.2 -4.5M611.9 316.8l-3.2 -4.5M625.8 329.0L632.5 314.5M632.5 314.5l-3.2 -4.5M631.4 316.8l-3.2 -4.5M70.0 345.0L71.7 329.1M71.7 329.1l-4.4 -3.3M89.5 345.0L91.2 329.1M91.2 329.1l-4.4 -3.3M109.0 345.0L109.0 329.0M109.0 329.0l-4.8 -2.7M128.5 345.0L126.7 329.1M126.7 329.1l-5.0 -2.2M148.0 345.0L144.4 329.4M144.4 329.4l-5.3 -1.6M167.5 345.0L163.0 329.7M163.0 329.7l-5.3 -1.3M187.0 345.0L181.7 329.9M181.7 329.9l-5.4 -1.0M206.5 345.0L200.4 330.2M200.4 330.2l-5.5 -0.7M226.0 345.0L219.5 330.4M219.5 330.4l-5.5 -0.6M245.5 345.0L239.4 330.2M239.4 330.2l-5.5 -0.7M265.0 345.0L259.7 329.9M259.7 329.9l-5.4 -1.0M284.5 345.0L282.6 329.1M282.6 329.1l-5.1 -2.2M304.0 345.0L309.0 329.8M309.0 329.8l-3.7 -4.1M323.5 345.0L335.1 334.0M335.1 334.0l-1.3 -5.4M343.0 345.0L354.7 334.1M354.7 334.1l-1.2 -5.4M362.5 345.0L373.9 333.8M373.9 333.8l-1.4 -5.3M382.0 345.0L391.2 331.9M391.2 331.9l-2.3 -5.0M401.5 345.0L408.1 330.4M408.1 330.4l-3.2 -4.5M407.0 332.8l-1.6 -2.2M421.0 345.0L424.8 329.5M424.8 329.5l-4.0 -3.8M424.2 332.0l-2.0 -1.9M440.5 345.0L442.1 329.1M442.1 329.1l-4.5 -3.2M441.8 331.7l-2.2 -1.6M460.0 345.0L460.1 329.0M460.1 329.0l-4.8 -2.8M460.1 331.6l-2.4 -1.4M479.5 345.0L478.4 329.0M478.4 329.0l-4.9 -2.4M478.6 331.6l-2.5 -1.2M499.0 345.0L497.2 329.1M497.2 329.1l-5.0 -2.2M497.5 331.7l-2.5 -1.1M518.5 345.0L515.9 329.2M515.9 329.2l-5.1 -1.9M516.3 331.8l-2.6 -1.0M538.0 345.0L535.0 329.3M535.0 329.3l-5.2 -1.8M535.5 331.8l-2.6 -0.9M557.5 345.0L554.2 329.3M554.2 329.3l-5.2 -1.7M554.8 331.9l-2.6 -0.9M577.0 345.0L573.4 329.4M573.4 329.4l-5.3 -1.6M574.0 331.9l-2.6 -0.8M596.5 345.0L592.9 329.4M592.9 329.4l-5.3 -1.6M593.5 332.0l-2.6 -0.8M616.0 345.0L612.4 329.4M612.4 329.4l-5.3 -1.6M613.0 332.0l-2.6 -0.8M635.5 345.0L631.9 329.4M631.9 329.4l-5.3 -1.6M632.5 332.0l-2.6 -0.8M79.8 361.0L76.6 345.3M76.6 345.3l-5.2 -1.7M99.2 361.0L95.4 345.5M95.4 345.5l-5.3 -1.5M118.8 361.0L113.5 345.9M113.5 345.9l-5.4 -1.0M138.2 361.0L131.7 346.4M131.7 346.4l-5.5 -0.5M157.8 361.0L150.2 346.9M150.2 346.9l-5.5 -0.2M177.2 361.0L169.2 347.2M169.2 347.2l-5.5 0.0M196.8 361.0L188.2 347.5M188.2 347.5l-5.5 0.2M216.2 361.0L207.2 347.8M207.2 347.8l-5.5 0.4M235.8 361.0L227.1 347.6M227.1 347.6l-5.5 0.3M255.2 361.0L247.1 347.2M247.1 347.2l-5.5 0.1M274.8 361.0L267.1 346.9M267.1 346.9l-5.5 -0.1M294.2 361.0L288.7 346.0M288.7 346.0l-5.4 -0.9M313.8 361.0L316.5 345.2M316.5 345.2l-4.2 -3.5M333.2 361.0L339.3 346.2M339.3 346.2l-3.4 -4.3M352.8 361.0L359.7 346.6M359.7 346.6l-3.1 -4.5M372.2 361.0L378.4 346.2M378.4 346.2l-3.3 -4.4M391.8 361.0L396.0 345.6M396.0 345.6l-3.9 -3.9M411.2 361.0L413.5 345.2M413.5 345.2l-4.3 -3.4M413.1 347.7l-2.2 -1.7M430.8 361.0L430.9 345.0M430.9 345.0l-4.7 -2.8M430.9 347.6l-2.4 -1.4M450.2 361.0L448.7 345.1M448.7 345.1l-5.0 -2.3M449.0 347.7l-2.5 -1.1M469.8 361.0L466.6 345.3M466.6 345.3l-5.2 -1.7M467.1 347.9l-2.6 -0.9M489.2 361.0L485.1 345.6M485.1 345.6l-5.3 -1.4M485.8 348.1l-2.7 -0.7M508.8 361.0L503.8 345.8M503.8 345.8l-5.4 -1.1M504.6 348.3l-2.7 -0.6M528.2 361.0L522.9 345.9M522.9 345.9l-5.4 -1.0M523.8 348.4l-2.7 -0.5M547.8 361.0L542.3 346.0M542.3 346.0l-5.4 -1.0M543.2 348.4l-2.7 -0.5M567.2 361.0L561.6 346.0M561.6 346.0l-5.4 -0.9M562.5 348.5l-2.7 -0.5M586.8 361.0L581.0 346.1M581.0 346.1l-5.4 -0.9M582.0 348.5l-2.7 -0.4M606.2 361.0L600.5 346.1M600.5 346.1l-5.4 -0.9M601.5 348.5l-2.7 -0.4M625.8 361.0L620.0 346.1M620.0 346.1l-5.4 -0.9M621.0 348.5l-2.7 -0.4M70.0 377.0L60.7 364.0M60.7 364.0l-5.5 0.5M89.5 377.0L80.2 364.0M80.2 364.0l-5.5 0.5M109.0 377.0L99.0 364.5M99.0 364.5l-5.4 0.8M128.5 377.0L117.8 365.1M117.8 365.1l-5.4 1.1M148.0 377.0L136.7 365.7M136.7 365.7l-5.3 1.4M167.5 377.0L156.0 365.9M156.0 365.9l-5.3 1.5M187.0 377.0L175.3 366.1M175.3 366.1l-5.3 1.6M206.5 377.0L194.6 366.3M194.6 366.3l-5.2 1.7M196.5 368.0l-2.6 0.8M226.0 377.0L214.2 366.2M214.2 366.2l-5.2 1.7M216.1 368.0l-2.6 0.8M245.5 377.0L234.3 365.6M234.3 365.6l-5.3 1.4M265.0 377.0L254.5 364.9M254.5 364.9l-5.4 1.1M284.5 377.0L274.7 364.4M274.7 364.4l-5.4 0.7M304.0 377.0L297.4 362.4M297.4 362.4l-5.5 -0.5M323.5 377.0L321.0 361.2M321.0 361.2l-5.1 -2.0M343.0 377.0L342.0 361.0M342.0 361.0l-4.9 -2.4M362.5 377.0L362.8 361.0M362.8 361.0l-4.7 -2.8M382.0 377.0L381.8 361.0M381.8 361.0l-4.8 -2.7M401.5 377.0L400.8 361.0M400.8 361.0l-4.9 -2.5M400.9 363.6l-2.4 -1.3M421.0 377.0L419.8 361.0M419.8 361.0l-5.0 -2.4M420.0 363.6l-2.5 -1.2M440.5 377.0L438.4 361.1M438.4 361.1l-5.1 -2.1M438.8 363.7l-2.5 -1.1M460.0 377.0L456.8 361.3M456.8 361.3l-5.2 -1.7M457.3 363.9l-2.6 -0.9M479.5 377.0L475.3 361.6M475.3 361.6l-5.3 -1.4M475.9 364.1l-2.7 -0.7M499.0 377.0L493.9 361.8M493.9 361.8l-5.4 -1.1M494.7 364.3l-2.7 -0.5M518.5 377.0L513.5 361.8M513.5 361.8l-5.4 -1.1M514.3 364.3l-2.7 -0.6M538.0 377.0L533.2 361.7M533.2 361.7l-5.4 -1.2M534.0 364.2l-2.7 -0.6M557.5 377.0L553.0 361.6M553.0 361.6l-5.3 -1.3M553.8 364.1l-2.7 -0.7M577.0 377.0L572.8 361.5M572.8 361.5l-5.3 -1.4M573.5 364.1l-2.7 -0.7M596.5 377.0L592.4 361.5M592.4 361.5l-5.3 -1.4M593.1 364.0l-2.7 -0.7M616.0 377.0L611.9 361.5M611.9 361.5l-5.3 -1.4M612.6 364.0l-2.7 -0.7M635.5 377.0L631.4 361.5M631.4 361.5l-5.3 -1.4M632.1 364.0l-2.7 -0.7M79.8 393.0L66.7 383.7M66.7 383.7l-5.0 2.3M99.2 393.0L86.1 383.9M86.1 383.9l-5.0 2.4M118.8 393.0L105.4 384.3M105.4 384.3l-4.9 2.5M138.2 393.0L124.6 384.6M124.6 384.6l-4.8 2.6M157.8 393.0L144.0 384.8M144.0 384.8l-4.8 2.7M177.2 393.0L163.5 384.9M163.5 384.9l-4.8 2.7M196.8 393.0L182.9 384.9M182.9 384.9l-4.8 2.7M185.2 386.3l-2.4 1.4M216.2 393.0L202.4 385.0M202.4 385.0l-4.8 2.7M204.6 386.3l-2.4 1.4M235.8 393.0L222.3 384.3M222.3 384.3l-4.9 2.5M224.5 385.7l-2.5 1.2M255.2 393.0L242.4 383.4M242.4 383.4l-5.1 2.2M274.8 393.0L262.6 382.6M262.6 382.6l-5.2 1.8M294.2 393.0L282.9 381.7M282.9 381.7l-5.3 1.4M313.8 393.0L303.7 380.5M303.7 380.5l-5.4 0.8M333.2 393.0L324.6 379.5M324.6 379.5l-5.5 0.2M352.8 393.0L345.6 378.7M345.6 378.7l-5.5 -0.4M372.2 393.0L366.2 378.2M366.2 378.2l-5.5 -0.7M391.8 393.0L386.3 377.9M386.3 377.9l-5.4 -1.0M411.2 393.0L406.5 377.7M406.5 377.7l-5.4 -1.2M407.3 380.2l-2.7 -0.6M430.8 393.0L426.6 377.5M426.6 377.5l-5.3 -1.4M427.3 380.0l-2.7 -0.7M450.2 393.0L445.4 377.7M445.4 377.7l-5.4 -1.2M446.2 380.2l-2.7 -0.6M469.8 393.0L464.2 378.0M464.2 378.0l-5.4 -0.9M465.1 380.4l-2.7 -0.5M489.2 393.0L483.0 378.3M483.0 378.3l-5.5 -0.7M484.0 380.7l-2.7 -0.3M508.8 393.0L502.4 378.3M502.4 378.3l-5.5 -0.6M503.4 380.7l-2.7 -0.3M528.2 393.0L522.5 378.1M522.5 378.1l-5.4 -0.8M523.4 380.5l-2.7 -0.4M547.8 393.0L542.5 377.9M542.5 377.9l-5.4 -1.0M543.4 380.3l-2.7 -0.5M567.2 393.0L562.6 377.7M562.6 377.7l-5.4 -1.2M563.4 380.2l-2.7 -0.6M586.8 393.0L582.5 377.6M582.5 377.6l-5.3 -1.4M583.2 380.1l-2.7 -0.7M606.2 393.0L602.0 377.6M602.0 377.6l-5.3 -1.4M602.7 380.1l-2.7 -0.7M625.8 393.0L621.5 377.6M621.5 377.6l-5.3 -1.4M622.2 380.1l-2.7 -0.7M70.0 409.0L57.3 399.3M57.3 399.3l-5.1 2.1M89.5 409.0L76.8 399.3M76.8 399.3l-5.1 2.1M109.0 409.0L96.1 399.5M96.1 399.5l-5.0 2.2M128.5 409.0L115.5 399.7M115.5 399.7l-5.0 2.3M148.0 409.0L134.8 399.9M134.8 399.9l-5.0 2.3M167.5 409.0L154.2 400.2M154.2 400.2l-4.9 2.5M156.3 401.6l-2.5 1.2M187.0 409.0L173.5 400.5M173.5 400.5l-4.9 2.6M175.7 401.9l-2.4 1.3M206.5 409.0L192.8 400.8M192.8 400.8l-4.8 2.7M195.0 402.1l-2.4 1.3M226.0 409.0L212.2 400.9M212.2 400.9l-4.8 2.7M214.5 402.2l-2.4 1.4M245.5 409.0L231.9 400.5M231.9 400.5l-4.9 2.6M234.1 401.9l-2.4 1.3M265.0 409.0L251.7 400.1M251.7 400.1l-4.9 2.4M284.5 409.0L271.4 399.8M271.4 399.8l-5.0 2.3M304.0 409.0L291.3 399.3M291.3 399.3l-5.1 2.1M323.5 409.0L311.2 398.7M311.2 398.7l-5.2 1.9M343.0 409.0L331.2 398.2M331.2 398.2l-5.2 1.7M362.5 409.0L351.1 397.7M351.1 397.7l-5.3 1.5M382.0 409.0L370.9 397.5M370.9 397.5l-5.3 1.3M401.5 409.0L390.7 397.2M390.7 397.2l-5.4 1.2M421.0 409.0L410.5 396.9M410.5 396.9l-5.4 1.0M440.5 409.0L429.9 397.0M429.9 397.0l-5.4 1.1M431.7 398.9l-2.7 0.5M460.0 409.0L449.0 397.4M449.0 397.4l-5.3 1.3M450.8 399.3l-2.7 0.6M479.5 409.0L468.1 397.8M468.1 397.8l-5.3 1.5M469.9 399.6l-2.6 0.7M499.0 409.0L487.2 398.2M487.2 398.2l-5.2 1.7M489.1 400.0l-2.6 0.8M518.5 409.0L506.8 398.1M506.8 398.1l-5.3 1.6M508.7 399.9l-2.6 0.8M538.0 409.0L526.4 398.0M526.4 398.0l-5.3 1.5M528.3 399.8l-2.6 0.8M557.5 409.0L546.1 397.8M546.1 397.8l-5.3 1.5M547.9 399.6l-2.6 0.7M577.0 409.0L565.7 397.7M565.7 397.7l-5.3 1.4M567.5 399.5l-2.7 0.7M596.5 409.0L585.2 397.6M585.2 397.6l-5.3 1.4M587.1 399.5l-2.7 0.7M616.0 409.0L604.7 397.6M604.7 397.6l-5.3 1.4M606.6 399.5l-2.7 0.7M635.5 409.0L624.2 397.6M624.2 397.6l-5.3 1.4M626.1 399.5l-2.7 0.7M79.8 425.0L67.4 414.9M67.4 414.9l-5.1 1.9M69.4 416.5l-2.6 1.0M99.2 425.0L86.8 414.9M86.8 414.9l-5.1 2.0M88.9 416.5l-2.6 1.0M118.8 425.0L106.3 414.9M106.3 414.9l-5.1 2.0M108.3 416.6l-2.6 1.0M138.2 425.0L125.8 415.0M125.8 415.0l-5.1 2.0M127.8 416.6l-2.6 1.0M157.8 425.0L145.1 415.2M145.1 415.2l-5.1 2.1M147.1 416.8l-2.5 1.0M177.2 425.0L164.2 415.8M164.2 415.8l-5.0 2.3M166.3 417.3l-2.5 1.2M196.8 425.0L183.3 416.3M183.3 416.3l-4.9 2.5M185.5 417.7l-2.4 1.3M216.2 425.0L202.5 416.9M202.5 416.9l-4.8 2.7M204.7 418.2l-2.4 1.4M235.8 425.0L221.8 417.1M221.8 417.1l-4.7 2.8M224.1 418.4l-2.4 1.4M255.2 425.0L241.3 417.3M241.3 417.3l-4.7 2.8M274.8 425.0L260.7 417.4M260.7 417.4l-4.7 2.9M294.2 425.0L280.1 417.6M280.1 417.6l-4.6 2.9M313.8 425.0L299.4 417.9M299.4 417.9l-4.6 3.1M333.2 425.0L318.7 418.3M318.7 418.3l-4.5 3.2M352.8 425.0L338.1 418.6M338.1 418.6l-4.4 3.3M372.2 425.0L357.6 418.7M357.6 418.7l-4.4 3.3M391.8 425.0L377.1 418.6M377.1 418.6l-4.4 3.3M411.2 425.0L396.6 418.5M396.6 418.5l-4.5 3.2M430.8 425.0L416.2 418.4M416.2 418.4l-4.5 3.2M450.2 425.0L435.5 418.8M435.5 418.8l-4.4 3.3M469.8 425.0L454.8 419.2M454.8 419.2l-4.3 3.4M457.3 420.1l-2.1 1.7M489.2 425.0L474.2 419.6M474.2 419.6l-4.2 3.6M476.6 420.5l-2.1 1.8M508.8 425.0L493.6 419.9M493.6 419.9l-4.1 3.6M496.0 420.8l-2.1 1.8M528.2 425.0L513.0 420.1M513.0 420.1l-4.1 3.7M515.5 420.9l-2.0 1.8M547.8 425.0L532.5 420.3M532.5 420.3l-4.0 3.7M534.9 421.1l-2.0 1.9M567.2 425.0L551.9 420.5M551.9 420.5l-4.0 3.8M554.4 421.2l-2.0 1.9M586.8 425.0L571.4 420.6M571.4 420.6l-4.0 3.8M573.9 421.3l-2.0 1.9M606.2 425.0L590.9 420.6M590.9 420.6l-4.0 3.8M593.4 421.3l-2.0 1.9M625.8 425.0L610.4 420.6M610.4 420.6l-4.0 3.8M612.9 421.3l-2.0 1.9M70.0 441.0L57.9 430.5M57.9 430.5l-5.2 1.8M59.9 432.2l-5.2 1.8M89.5 441.0L77.4 430.5M77.4 430.5l-5.2 1.8M79.4 432.2l-5.2 1.8M109.0 441.0L96.9 430.5M96.9 430.5l-5.2 1.8M98.9 432.2l-5.2 1.8M128.5 441.0L116.4 430.5M116.4 430.5l-5.2 1.8M118.4 432.2l-5.2 1.8M148.0 441.0L135.9 430.5M135.9 430.5l-5.2 1.8M137.9 432.2l-5.2 1.8M167.5 441.0L155.2 430.8M155.2 430.8l-5.2 1.9M157.2 432.5l-5.2 1.9M187.0 441.0L174.4 431.2M174.4 431.2l-5.1 2.1M176.4 432.8l-5.1 2.1M206.5 441.0L193.6 431.5M193.6 431.5l-5.0 2.2M195.7 433.1l-5.0 2.2M226.0 441.0L214.1 430.3M214.1 430.3l-5.2 1.7M216.1 432.0l-2.6 0.8M245.5 441.0L238.5 426.6M238.5 426.6l-5.5 -0.4M239.7 428.9l-2.7 -0.2M265.0 441.0L263.9 425.0M263.9 425.0l-4.9 -2.4M264.1 427.6l-2.5 -1.2M284.5 441.0L289.5 425.8M289.5 425.8l-3.7 -4.1M304.0 441.0L310.4 426.3M310.4 426.3l-3.3 -4.4M323.5 441.0L329.5 426.2M329.5 426.2l-3.4 -4.3M343.0 441.0L348.7 426.1M348.7 426.1l-3.5 -4.3M362.5 441.0L367.8 425.9M367.8 425.9l-3.6 -4.2M382.0 441.0L386.7 425.7M386.7 425.7l-3.7 -4.0M401.5 441.0L405.7 425.5M405.7 425.5l-3.9 -3.9M405.0 428.1l-1.9 -1.9M421.0 441.0L424.6 425.4M424.6 425.4l-4.0 -3.7M424.0 427.9l-2.0 -1.9M440.5 441.0L443.7 425.3M443.7 425.3l-4.1 -3.6M443.2 427.9l-2.1 -1.8M460.0 441.0L463.0 425.3M463.0 425.3l-4.2 -3.6M462.5 427.8l-2.1 -1.8M479.5 441.0L482.3 425.3M482.3 425.3l-4.2 -3.5M481.9 427.8l-2.1 -1.8M499.0 441.0L501.6 425.2M501.6 425.2l-4.2 -3.5M501.2 427.8l-4.2 -3.5M518.5 441.0L521.0 425.2M521.0 425.2l-4.3 -3.5M520.6 427.8l-4.3 -3.5M538.0 441.0L540.3 425.2M540.3 425.2l-4.3 -3.4M539.9 427.7l-4.3 -3.4M557.5 441.0L559.7 425.1M559.7 425.1l-4.3 -3.4M559.3 427.7l-4.3 -3.4M577.0 441.0L579.0 425.1M579.0 425.1l-4.4 -3.3M578.7 427.7l-4.4 -3.3M596.5 441.0L598.5 425.1M598.5 425.1l-4.4 -3.3M598.2 427.7l-4.4 -3.3M616.0 441.0L618.0 425.1M618.0 425.1l-4.4 -3.3M617.7 427.7l-4.4 -3.3M635.5 441.0L637.5 425.1M637.5 425.1l-4.4 -3.3M637.2 427.7l-4.4 -3.3M79.8 457.0L67.7 446.5M67.7 446.5l-5.2 1.8M69.7 448.2l-5.2 1.8M99.2 457.0L87.2 446.5M87.2 446.5l-5.2 1.8M89.2 448.2l-5.2 1.8M118.8 457.0L106.7 446.5M106.7 446.5l-5.2 1.8M108.7 448.2l-5.2 1.8M138.2 457.0L126.2 446.5M126.2 446.5l-5.2 1.8M128.2 448.2l-5.2 1.8M157.8 457.0L145.7 446.5M145.7 446.5l-5.2 1.8M147.6 448.2l-5.2 1.8M177.2 457.0L165.1 446.6M165.1 446.6l-5.2 1.8M167.1 448.3l-5.2 1.8M196.8 457.0L184.6 446.6M184.6 446.6l-5.2 1.8M186.5 448.3l-5.2 1.8M216.2 457.0L204.0 446.7M204.0 446.7l-5.2 1.9M206.0 448.4l-5.2 1.9M235.8 457.0L228.3 442.8M228.3 442.8l-5.5 -0.2M229.5 445.1l-5.5 -0.2M255.2 457.0L255.3 441.0M255.3 441.0l-4.8 -2.8M255.3 443.6l-2.4 -1.4M274.8 457.0L282.2 442.8M282.2 442.8l-2.9 -4.7M294.2 457.0L306.9 447.2M306.9 447.2l-0.7 -5.5M313.8 457.0L328.3 450.4M328.3 450.4l0.5 -5.5M333.2 457.0L348.9 453.9M348.9 453.9l1.8 -5.2M352.8 457.0L368.7 457.5M368.7 457.5l2.9 -4.7M372.2 457.0L388.2 458.5M388.2 458.5l3.2 -4.5M385.6 458.3l1.6 -2.2M391.8 457.0L407.7 457.9M407.7 457.9l3.0 -4.6M405.1 457.7l1.5 -2.3M411.2 457.0L427.2 457.3M427.2 457.3l2.8 -4.7M424.6 457.2l1.4 -2.4M430.8 457.0L446.7 456.7M446.7 456.7l2.6 -4.8M444.1 456.7l2.6 -4.8M450.2 457.0L466.2 456.7M466.2 456.7l2.6 -4.8M463.6 456.7l2.6 -4.8M469.8 457.0L485.7 456.7M485.7 456.7l2.6 -4.8M483.1 456.7l2.6 -4.8M489.2 457.0L505.2 456.7M505.2 456.7l2.6 -4.8M502.6 456.7l2.6 -4.8M508.8 457.0L524.7 456.6M524.7 456.6l2.6 -4.8M522.1 456.7l2.6 -4.8M528.2 457.0L544.2 456.6M544.2 456.6l2.6 -4.8M541.6 456.6l2.6 -4.8M547.8 457.0L563.7 456.5M563.7 456.5l2.6 -4.8M561.1 456.6l2.6 -4.8M567.2 457.0L583.2 456.5M583.2 456.5l2.6 -4.9M580.6 456.5l2.6 -4.9M586.8 457.0L602.7 456.4M602.7 456.4l2.6 -4.9M600.1 456.5l2.6 -4.9M606.2 457.0L622.2 456.4M622.2 456.4l2.6 -4.9M619.6 456.5l2.6 -4.9M625.8 457.0L641.7 456.4M641.7 456.4l2.6 -4.9M639.1 456.5l2.6 -4.9M70.0 473.0L57.7 462.7M57.7 462.7l-5.2 1.9M59.7 464.4l-5.2 1.9M89.5 473.0L77.2 462.7M77.2 462.7l-5.2 1.9M79.2 464.4l-5.2 1.9M109.0 473.0L96.7 462.7M96.7 462.7l-5.2 1.9M98.7 464.4l-5.2 1.9M128.5 473.0L116.2 462.7M116.2 462.7l-5.2 1.9M118.2 464.4l-5.2 1.9M148.0 473.0L135.7 462.7M135.7 462.7l-5.2 1.9M137.7 464.4l-5.2 1.9M167.5 473.0L155.2 462.7M155.2 462.7l-5.2 1.9M157.2 464.4l-5.2 1.9M187.0 473.0L174.7 462.7M174.7 462.7l-5.2 1.9M176.7 464.4l-5.2 1.9M206.5 473.0L194.2 462.7M194.2 462.7l-5.2 1.9M196.2 464.4l-5.2 1.9M226.0 473.0L214.1 462.3M214.1 462.3l-5.2 1.7M216.1 464.0l-5.2 1.7M245.5 473.0L235.0 460.9M235.0 460.9l-5.4 1.0M236.7 462.9l-2.7 0.5M265.0 473.0L256.1 459.7M256.1 459.7l-5.5 0.4M257.5 461.9l-2.7 0.2M284.5 473.0L277.3 458.7M277.3 458.7l-5.5 -0.3M304.0 473.0L301.9 457.1M301.9 457.1l-5.1 -2.1M323.5 473.0L328.0 457.7M328.0 457.7l-3.8 -4.0M343.0 473.0L353.4 460.8M353.4 460.8l-1.8 -5.2M351.7 462.8l-0.9 -2.6M362.5 473.0L376.6 465.5M376.6 465.5l0.2 -5.5M374.3 466.7l0.1 -2.7M382.0 473.0L396.5 466.2M396.5 466.2l0.5 -5.5M394.1 467.3l0.2 -2.7M401.5 473.0L416.3 467.0M416.3 467.0l0.7 -5.4M413.9 467.9l0.4 -2.7M421.0 473.0L436.1 467.7M436.1 467.7l1.0 -5.4M433.7 468.6l0.5 -2.7M440.5 473.0L455.6 467.7M455.6 467.7l1.0 -5.4M453.1 468.5l0.5 -2.7M460.0 473.0L474.8 466.9M474.8 466.9l0.7 -5.5M472.4 467.9l0.4 -2.7M479.5 473.0L494.0 466.2M494.0 466.2l0.5 -5.5M491.6 467.3l0.2 -2.7M499.0 473.0L513.1 465.5M513.1 465.5l0.2 -5.5M510.8 466.7l0.1 -2.7M518.5 473.0L532.1 464.6M532.1 464.6l-0.2 -5.5M529.9 466.0l-0.1 -2.7M538.0 473.0L551.1 463.8M551.1 463.8l-0.5 -5.5M548.9 465.3l-0.2 -2.7M557.5 473.0L570.0 463.0M570.0 463.0l-0.8 -5.4M568.0 464.6l-0.4 -2.7M577.0 473.0L588.8 462.2M588.8 462.2l-1.2 -5.4M586.9 464.0l-0.6 -2.7M596.5 473.0L608.2 462.1M608.2 462.1l-1.2 -5.4M606.3 463.9l-0.6 -2.7M616.0 473.0L627.7 462.1M627.7 462.1l-1.2 -5.4M625.8 463.9l-0.6 -2.7M635.5 473.0L647.2 462.1M647.2 462.1l-1.2 -5.4M645.3 463.9l-0.6 -2.7M79.8 489.0L67.5 478.7M67.5 478.7l-5.2 1.9M69.5 480.4l-5.2 1.9M99.2 489.0L87.0 478.7M87.0 478.7l-5.2 1.9M89.0 480.4l-5.2 1.9M118.8 489.0L106.5 478.7M106.5 478.7l-5.2 1.9M108.5 480.4l-5.2 1.9M138.2 489.0L126.0 478.7M126.0 478.7l-5.2 1.9M128.0 480.4l-5.2 1.9M157.8 489.0L145.5 478.7M145.5 478.7l-5.2 1.9M147.5 480.4l-5.2 1.9M177.2 489.0L165.0 478.7M165.0 478.7l-5.2 1.9M167.0 480.4l-5.2 1.9M196.8 489.0L184.5 478.7M184.5 478.7l-5.2 1.9M186.5 480.4l-5.2 1.9M216.2 489.0L204.0 478.7M204.0 478.7l-5.2 1.9M206.0 480.4l-5.2 1.9M235.8 489.0L225.2 477.0M225.2 477.0l-5.4 1.1M226.9 478.9l-5.4 1.1M255.2 489.0L247.2 475.2M247.2 475.2l-5.5 0.0M248.5 477.4l-2.7 0.0M274.8 489.0L269.4 473.9M269.4 473.9l-5.4 -1.0M294.2 489.0L291.4 473.3M291.4 473.3l-5.2 -1.9M313.8 489.0L311.6 473.1M311.6 473.1l-5.1 -2.1M333.2 489.0L331.9 473.1M331.9 473.1l-5.0 -2.3M352.8 489.0L352.2 473.0M352.2 473.0l-4.9 -2.6M372.2 489.0L373.6 473.1M373.6 473.1l-4.5 -3.1M391.8 489.0L395.7 473.5M395.7 473.5l-3.9 -3.8M411.2 489.0L417.6 474.3M417.6 474.3l-3.3 -4.4M430.8 489.0L439.2 475.4M439.2 475.4l-2.6 -4.9M450.2 489.0L456.1 474.1M456.1 474.1l-3.4 -4.3M469.8 489.0L472.7 473.3M472.7 473.3l-4.2 -3.6M489.2 489.0L489.3 473.0M489.3 473.0l-4.8 -2.8M508.8 489.0L505.7 473.3M505.7 473.3l-5.2 -1.8M528.2 489.0L522.1 474.2M522.1 474.2l-5.5 -0.7M547.8 489.0L538.7 475.8M538.7 475.8l-5.5 0.4M567.2 489.0L555.7 477.9M555.7 477.9l-5.3 1.5M586.8 489.0L573.9 479.5M573.9 479.5l-5.0 2.2M606.2 489.0L593.4 479.5M593.4 479.5l-5.0 2.2M625.8 489.0L612.9 479.5M612.9 479.5l-5.0 2.2M70.0 505.0L57.7 494.7M57.7 494.7l-5.2 1.9M59.7 496.4l-5.2 1.9M89.5 505.0L77.2 494.7M77.2 494.7l-5.2 1.9M79.2 496.4l-5.2 1.9M109.0 505.0L96.7 494.7M96.7 494.7l-5.2 1.9M98.7 496.4l-5.2 1.9M128.5 505.0L116.2 494.7M116.2 494.7l-5.2 1.9M118.2 496.4l-5.2 1.9M148.0 505.0L135.7 494.7M135.7 494.7l-5.2 1.9M137.7 496.4l-5.2 1.9M167.5 505.0L155.4 494.6M155.4 494.6l-5.2 1.8M157.3 496.3l-5.2 1.8M187.0 505.0L175.0 494.4M175.0 494.4l-5.2 1.8M176.9 496.2l-5.2 1.8M206.5 505.0L194.6 494.3M194.6 494.3l-5.2 1.7M196.5 496.0l-5.2 1.7M226.0 505.0L214.6 493.8M214.6 493.8l-5.3 1.5M216.4 495.6l-5.3 1.5M245.5 505.0L235.4 492.6M235.4 492.6l-5.4 0.9M237.0 494.6l-2.7 0.4M265.0 505.0L256.3 491.6M256.3 491.6l-5.5 0.3M257.7 493.8l-2.7 0.1M284.5 505.0L277.3 490.7M277.3 490.7l-5.5 -0.3M304.0 505.0L297.5 490.4M297.5 490.4l-5.5 -0.6M323.5 505.0L317.3 490.2M317.3 490.2l-5.5 -0.7M343.0 505.0L337.2 490.1M337.2 490.1l-5.4 -0.8M362.5 505.0L357.4 489.8M357.4 489.8l-5.4 -1.1M382.0 505.0L379.9 489.1M379.9 489.1l-5.1 -2.1M401.5 505.0L402.5 489.0M402.5 489.0l-4.6 -3.1M421.0 505.0L425.1 489.5M425.1 489.5l-3.9 -3.9M440.5 505.0L444.6 489.5M444.6 489.5l-3.9 -3.9M460.0 505.0L461.4 489.1M461.4 489.1l-4.5 -3.2M479.5 505.0L478.2 489.1M478.2 489.1l-5.0 -2.3M499.0 505.0L495.0 489.5M495.0 489.5l-5.3 -1.5M518.5 505.0L514.8 489.4M514.8 489.4l-5.3 -1.6M538.0 505.0L534.8 489.3M534.8 489.3l-5.2 -1.8M557.5 505.0L554.8 489.2M554.8 489.2l-5.2 -1.9M577.0 505.0L574.8 489.1M574.8 489.1l-5.1 -2.1M596.5 505.0L594.4 489.1M594.4 489.1l-5.1 -2.1M616.0 505.0L613.9 489.1M613.9 489.1l-5.1 -2.1M635.5 505.0L633.4 489.1M633.4 489.1l-5.1 -2.1M79.8 521.0L67.5 510.7M67.5 510.7l-5.2 1.9M69.5 512.4l-5.2 1.9M99.2 521.0L87.0 510.7M87.0 510.7l-5.2 1.9M89.0 512.4l-5.2 1.9M118.8 521.0L106.5 510.7M106.5 510.7l-5.2 1.9M108.5 512.4l-5.2 1.9M138.2 521.0L126.0 510.7M126.0 510.7l-5.2 1.9M128.0 512.4l-5.2 1.9M157.8 521.0L145.6 510.6M145.6 510.6l-5.2 1.8M147.6 512.3l-5.2 1.8M177.2 521.0L165.3 510.3M165.3 510.3l-5.2 1.7M167.3 512.0l-5.2 1.7M196.8 521.0L185.1 510.0M185.1 510.0l-5.3 1.6M187.0 511.8l-5.3 1.6M216.2 521.0L204.9 509.7M204.9 509.7l-5.3 1.4M206.7 511.6l-5.3 1.4M235.8 521.0L224.7 509.5M224.7 509.5l-5.3 1.3M226.5 511.3l-5.3 1.3M255.2 521.0L244.4 509.2M244.4 509.2l-5.4 1.2M246.2 511.1l-2.7 0.6M274.8 521.0L264.2 508.9M264.2 508.9l-5.4 1.1M294.2 521.0L284.0 508.7M284.0 508.7l-5.4 0.9M313.8 521.0L303.8 508.4M303.8 508.4l-5.4 0.8M333.2 521.0L323.6 508.2M323.6 508.2l-5.5 0.7M352.8 521.0L343.5 508.0M343.5 508.0l-5.5 0.5M372.2 521.0L365.0 506.8M365.0 506.8l-5.5 -0.3M391.8 521.0L387.7 505.5M387.7 505.5l-5.3 -1.5M411.2 521.0L410.7 505.0M410.7 505.0l-4.9 -2.6M430.8 521.0L433.4 505.2M433.4 505.2l-4.2 -3.5M450.2 521.0L450.6 505.0M450.6 505.0l-4.7 -2.9M469.8 521.0L467.8 505.1M467.8 505.1l-5.1 -2.1M489.2 521.0L485.0 505.6M485.0 505.6l-5.3 -1.4M508.8 521.0L505.2 505.4M505.2 505.4l-5.3 -1.6M528.2 521.0L529.1 505.0M529.1 505.0l-4.6 -3.0M547.8 521.0L552.9 505.9M552.9 505.9l-3.6 -4.1M567.2 521.0L576.3 507.8M576.3 507.8l-2.4 -5.0M586.8 521.0L598.1 509.7M598.1 509.7l-1.4 -5.3M606.2 521.0L617.6 509.7M617.6 509.7l-1.4 -5.3M625.8 521.0L637.1 509.7M637.1 509.7l-1.4 -5.3" stroke="#000" stroke-width="1" fill="none" shape-rendering="crispEdges"/><path d="M248.0,48.0L251.8,51.9L257.0,55.0L268.0,58.3L274.5,61.5L283.0,58.3L291.7,54.0L296.0,51.9L300.0,48.0M271.0,48.0L271.0,59.5M349.0,48.0L352.0,51.9L357.5,55.0L360.7,55.0L365.0,51.9L368.0,48.0M476.0,48.0L482.0,55.0L490.0,62.0L497.7,58.8L505.4,55.8L513.0,58.0L520.8,57.3L523.0,53.0L525.4,54.2L531.5,57.3L534.6,63.5L539.0,65.8L544.0,66.5L545.4,72.7L548.5,77.3L548.5,85.0L547.0,91.0L545.4,97.3L544.0,103.5L541.5,109.6L543.0,112.7L543.8,117.3L540.8,122.0L542.3,128.0L539.0,134.0L534.6,140.4L531.5,143.0L536.0,152.3L542.3,161.5L548.5,170.8L554.6,178.5L560.8,184.6L567.0,190.8L571.5,195.4L576.0,200.0L579.0,204.6L582.3,210.8L583.8,217.0L585.4,223.0L587.0,230.0L591.5,236.0L596.0,243.5L599.0,254.0L603.4,264.5L604.2,270.4L600.4,275.0L600.4,281.0L603.4,291.4L608.0,297.4L611.0,300.4L611.0,312.4L609.4,320.0L605.0,329.0L597.5,335.0L591.5,342.5L588.5,353.0L584.0,368.0L579.5,383.0L576.5,395.0L576.5,404.0L577.2,410.0L578.0,419.0L582.6,428.0L588.0,435.2L593.4,444.2L598.8,453.2L602.4,462.2L607.8,471.2L613.2,480.2L618.6,487.4L621.3,492.8L621.3,501.8L621.3,512.6L622.2,521.6L625.8,528.8L627.0,533.0M523.0,53.0L523.0,48.0M547.0,95.8L573.0,95.8L573.0,114.2L545.4,115.0M573.0,95.8L601.5,95.5L635.0,95.5M601.5,95.5L603.0,111.0L621.5,111.0L621.5,122.0L614.0,134.0L622.0,144.0L624.0,147.7L622.3,158.5L620.8,166.0L617.7,170.8L613.0,169.0L600.8,167.7L596.0,163.0L591.5,161.5L588.5,167.7L580.8,167.7L577.7,170.8L579.0,175.4L583.8,177.0L582.3,180.0L583.8,184.6L580.8,189.0L576.0,187.7L570.0,192.3M582.3,210.8L585.4,207.7L591.5,204.6L597.7,201.5L602.3,206.0L608.5,204.6L614.6,200.0L620.8,203.0L622.3,207.7L635.0,209.0M597.7,201.5L594.6,204.6L591.5,207.7L590.0,212.3L588.5,217.0L587.0,223.0L588.5,227.0M588.5,229.0L596.0,227.7L604.0,226.0L608.5,223.0L616.0,226.0L622.3,224.6L635.0,224.6M576.5,405.4L590.0,404.0L600.4,401.0L606.4,404.0L614.0,408.4L620.0,408.4L635.0,407.0" stroke="#000" stroke-width="2.6" fill="none" stroke-linejoin="round"/><rect x="620.6" y="492.5" width="4.6" height="9.5" stroke="#000" stroke-width="1.6" fill="none"/><ellipse cx="530" cy="73" rx="3.6" ry="4.3" stroke="#000" stroke-width="2.4" fill="none" transform="rotate(30 530 73)"/><ellipse cx="496.5" cy="126.3" rx="2.8" ry="3.2" stroke="#000" stroke-width="2.2" fill="none"/><path d="M505,103L510,101.5L511,105L507,106.5Z" fill="#000" stroke="#000" stroke-width="1"/><path d="M479,150L482,150L483,155L480,156Z" fill="#000" stroke="#000" stroke-width="1"/><path d="M540,125L546,125.5L548.5,129L546,131.5L541,130Z" fill="#000"/><path d="M161.80,249.50L164.68,254.34L170.17,255.58L166.46,259.81L166.97,265.42L161.80,263.20L156.63,265.42L157.14,259.81L153.43,255.58L158.92,254.34Z" fill="#000" stroke="#000" stroke-width="1" stroke-linejoin="round"/><path d="M161.80,255.30L162.80,257.52L165.22,257.79L163.42,259.43L163.92,261.81L161.80,260.60L159.68,261.81L160.18,259.43L158.38,257.79L160.80,257.52Z" fill="#fff"/><path d="M299.80,377.20L302.68,382.04L308.17,383.28L304.46,387.51L304.97,393.12L299.80,390.90L294.63,393.12L295.14,387.51L291.43,383.28L296.92,382.04Z" fill="#000" stroke="#000" stroke-width="1" stroke-linejoin="round"/><path d="M299.80,383.00L300.80,385.22L303.22,385.49L301.42,387.13L301.92,389.51L299.80,388.30L297.68,389.51L298.18,387.13L296.38,385.49L298.80,385.22Z" fill="#fff"/></g><rect x="72" y="50.75" width="559.25" height="478.75" fill="none" stroke="#000" stroke-width="3.5"/><path d="M72 50.75V33.75 M72 529.5V546.5 M104 50.75V42.25 M104 529.5V538.0 M136 50.75V42.25 M136 529.5V538.0 M168 50.75V42.25 M168 529.5V538.0 M200 50.75V42.25 M200 529.5V538.0 M232 50.75V33.75 M232 529.5V546.5 M264 50.75V42.25 M264 529.5V538.0 M296 50.75V42.25 M296 529.5V538.0 M328 50.75V42.25 M328 529.5V538.0 M360 50.75V42.25 M360 529.5V538.0 M392 50.75V33.75 M392 529.5V546.5 M424 50.75V42.25 M424 529.5V538.0 M456 50.75V42.25 M456 529.5V538.0 M488 50.75V42.25 M488 529.5V538.0 M520 50.75V42.25 M520 529.5V538.0 M552 50.75V33.75 M552 529.5V546.5 M584 50.75V42.25 M584 529.5V538.0 M616 50.75V42.25 M616 529.5V538.0 M72 66H63.5 M631.25 66H639.75 M72 98H63.5 M631.25 98H639.75 M72 130H55 M631.25 130H648.25 M72 162H63.5 M631.25 162H639.75 M72 194H63.5 M631.25 194H639.75 M72 226H63.5 M631.25 226H639.75 M72 258H63.5 M631.25 258H639.75 M72 290H55 M631.25 290H648.25 M72 322H63.5 M631.25 322H639.75 M72 354H63.5 M631.25 354H639.75 M72 386H63.5 M631.25 386H639.75 M72 418H63.5 M631.25 418H639.75 M72 450H55 M631.25 450H648.25 M72 482H63.5 M631.25 482H639.75 M72 514H63.5 M631.25 514H639.75" stroke="#000" stroke-width="2.5" fill="none"/><text x="29.00" y="139" font-size="24" textLength="11.08" lengthAdjust="spacingAndGlyphs" font-family="Liberation Sans, Arial, sans-serif" font-weight="bold">0</text><text x="3.70" y="299" font-size="24" textLength="36.86" lengthAdjust="spacingAndGlyphs" font-family="Liberation Sans, Arial, sans-serif" font-weight="bold">10S</text><text x="3.70" y="459" font-size="24" textLength="36.86" lengthAdjust="spacingAndGlyphs" font-family="Liberation Sans, Arial, sans-serif" font-weight="bold">20S</text><text x="49.00" y="579" font-size="24" textLength="45.06" lengthAdjust="spacingAndGlyphs" font-family="Liberation Sans, Arial, sans-serif" font-weight="bold">20W</text><text x="209.40" y="579" font-size="24" textLength="45.06" lengthAdjust="spacingAndGlyphs" font-family="Liberation Sans, Arial, sans-serif" font-weight="bold">10W</text><text x="386.50" y="579" font-size="24" textLength="11.08" lengthAdjust="spacingAndGlyphs" font-family="Liberation Sans, Arial, sans-serif" font-weight="bold">0</text><text x="531.50" y="579" font-size="24" textLength="40.96" lengthAdjust="spacingAndGlyphs" font-family="Liberation Sans, Arial, sans-serif" font-weight="bold">10E</text><text x="71.00" y="22" font-size="30" textLength="238.09" lengthAdjust="spacingAndGlyphs" font-family="Liberation Sans, Arial, sans-serif" font-weight="bold">BB Age Distr. Mean</text><text x="75.50" y="43.3" font-size="22" textLength="59.54" lengthAdjust="spacingAndGlyphs" font-family="Liberation Sans, Arial, sans-serif" font-weight="bold">(days)</text><text x="446.20" y="23" font-size="30" textLength="184.90" lengthAdjust="spacingAndGlyphs" font-family="Liberation Sans, Arial, sans-serif" font-weight="bold">2018-10-17_06</text><text x="549.40" y="48" font-size="22" textLength="81.07" lengthAdjust="spacingAndGlyphs" font-family="Liberation Sans, Arial, sans-serif" font-weight="bold">600 hPa</text><rect x="78.4" y="595.5" width="32.1" height="41" fill="#FFFFFF" stroke="#000" stroke-width="2.5"/><rect x="110.6" y="595.5" width="32.1" height="41" fill="#C0C0FF" stroke="#000" stroke-width="2.5"/><rect x="142.7" y="595.5" width="32.1" height="41" fill="#8080FF" stroke="#000" stroke-width="2.5"/><rect x="174.8" y="595.5" width="32.1" height="41" fill="#4040FF" stroke="#000" stroke-width="2.5"/><rect x="207.0" y="595.5" width="32.1" height="41" fill="#0000FF" stroke="#000" stroke-width="2.5"/><rect x="239.2" y="595.5" width="32.1" height="41" fill="#0A20C0" stroke="#000" stroke-width="2.5"/><rect x="271.3" y="595.5" width="32.1" height="41" fill="#005A82" stroke="#000" stroke-width="2.5"/><rect x="303.4" y="595.5" width="32.1" height="41" fill="#0A824B" stroke="#000" stroke-width="2.5"/><rect x="335.6" y="595.5" width="32.1" height="41" fill="#0AAA14" stroke="#000" stroke-width="2.5"/><rect x="367.8" y="595.5" width="32.1" height="41" fill="#41C314" stroke="#000" stroke-width="2.5"/><rect x="399.9" y="595.5" width="32.1" height="41" fill="#7DD70A" stroke="#000" stroke-width="2.5"/><rect x="432.0" y="595.5" width="32.1" height="41" fill="#B9E605" stroke="#000" stroke-width="2.5"/><rect x="464.2" y="595.5" width="32.1" height="41" fill="#F5FA00" stroke="#000" stroke-width="2.5"/><rect x="496.4" y="595.5" width="32.1" height="41" fill="#FFC800" stroke="#000" stroke-width="2.5"/><rect x="528.5" y="595.5" width="32.1" height="41" fill="#FF8700" stroke="#000" stroke-width="2.5"/><rect x="560.6" y="595.5" width="32.1" height="41" fill="#FF4B00" stroke="#000" stroke-width="2.5"/><rect x="592.8" y="595.5" width="32.1" height="41" fill="#FF0A00" stroke="#000" stroke-width="2.5"/><text x="104.59" y="667" font-size="24" textLength="12.01" lengthAdjust="spacingAndGlyphs" font-family="Liberation Sans, Arial, sans-serif" font-weight="bold">0</text><text x="136.74" y="667" font-size="24" textLength="12.01" lengthAdjust="spacingAndGlyphs" font-family="Liberation Sans, Arial, sans-serif" font-weight="bold">1</text><text x="168.89" y="667" font-size="24" textLength="12.01" lengthAdjust="spacingAndGlyphs" font-family="Liberation Sans, Arial, sans-serif" font-weight="bold">2</text><text x="201.04" y="667" font-size="24" textLength="12.01" lengthAdjust="spacingAndGlyphs" font-family="Liberation Sans, Arial, sans-serif" font-weight="bold">3</text><text x="233.19" y="667" font-size="24" textLength="12.01" lengthAdjust="spacingAndGlyphs" font-family="Liberation Sans, Arial, sans-serif" font-weight="bold">4</text><text x="265.34" y="667" font-size="24" textLength="12.01" lengthAdjust="spacingAndGlyphs" font-family="Liberation Sans, Arial, sans-serif" font-weight="bold">5</text><text x="297.49" y="667" font-size="24" textLength="12.01" lengthAdjust="spacingAndGlyphs" font-family="Liberation Sans, Arial, sans-serif" font-weight="bold">6</text><text x="329.64" y="667" font-size="24" textLength="12.01" lengthAdjust="spacingAndGlyphs" font-family="Liberation Sans, Arial, sans-serif" font-weight="bold">7</text><text x="361.79" y="667" font-size="24" textLength="12.01" lengthAdjust="spacingAndGlyphs" font-family="Liberation Sans, Arial, sans-serif" font-weight="bold">8</text><text x="393.94" y="667" font-size="24" textLength="12.01" lengthAdjust="spacingAndGlyphs" font-family="Liberation Sans, Arial, sans-serif" font-weight="bold">9</text><text x="420.01" y="667" font-size="24" textLength="24.03" lengthAdjust="spacingAndGlyphs" font-family="Liberation Sans, Arial, sans-serif" font-weight="bold">10</text><text x="452.84" y="667" font-size="24" textLength="22.83" lengthAdjust="spacingAndGlyphs" font-family="Liberation Sans, Arial, sans-serif" font-weight="bold">11</text><text x="484.31" y="667" font-size="24" textLength="24.03" lengthAdjust="spacingAndGlyphs" font-family="Liberation Sans, Arial, sans-serif" font-weight="bold">12</text><text x="516.46" y="667" font-size="24" textLength="24.03" lengthAdjust="spacingAndGlyphs" font-family="Liberation Sans, Arial, sans-serif" font-weight="bold">13</text><text x="548.61" y="667" font-size="24" textLength="24.03" lengthAdjust="spacingAndGlyphs" font-family="Liberation Sans, Arial, sans-serif" font-weight="bold">14</text><text x="580.76" y="667" font-size="24" textLength="24.03" lengthAdjust="spacingAndGlyphs" font-family="Liberation Sans, Arial, sans-serif" font-weight="bold">15</text></svg>
</body></html>
